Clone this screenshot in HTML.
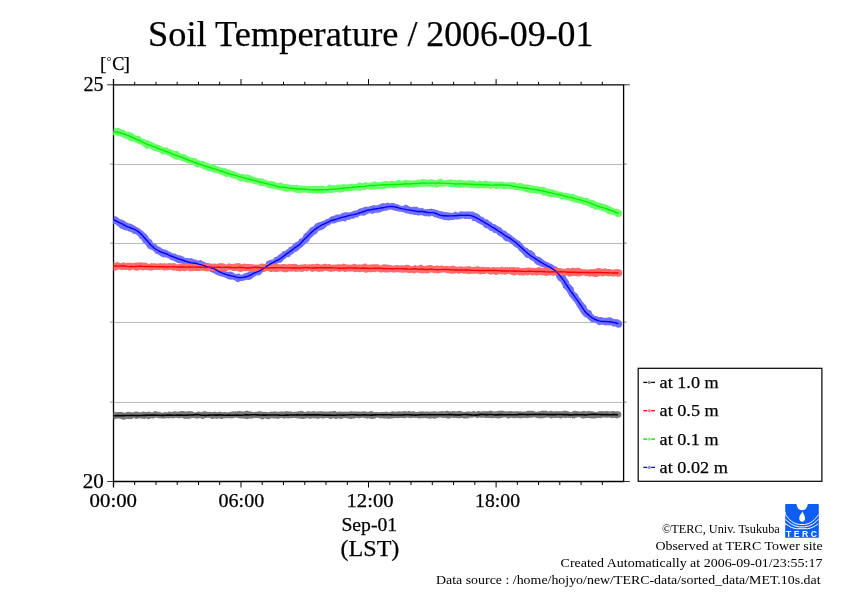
<!DOCTYPE html>
<html><head><meta charset="utf-8"><style>
html,body{margin:0;padding:0;background:#fff;}
body{width:842px;height:595px;overflow:hidden;}
svg{display:block;will-change:transform;font-family:"Liberation Serif",serif;}
</style></head><body>
<svg width="842" height="595" viewBox="0 0 842 595">
<rect width="842" height="595" fill="#fff"/>
<line x1="113.5" y1="164.5" x2="623.6" y2="164.5" stroke="#bababa" stroke-width="1"/>
<line x1="110.2" y1="164.1" x2="113.5" y2="164.1" stroke="#8c8c8c" stroke-width="1"/>
<line x1="623.6" y1="164.1" x2="626.8" y2="164.1" stroke="#8c8c8c" stroke-width="1"/>
<line x1="113.5" y1="243.5" x2="623.6" y2="243.5" stroke="#bababa" stroke-width="1"/>
<line x1="110.2" y1="243.1" x2="113.5" y2="243.1" stroke="#8c8c8c" stroke-width="1"/>
<line x1="623.6" y1="243.1" x2="626.8" y2="243.1" stroke="#8c8c8c" stroke-width="1"/>
<line x1="113.5" y1="322.5" x2="623.6" y2="322.5" stroke="#bababa" stroke-width="1"/>
<line x1="110.2" y1="322.1" x2="113.5" y2="322.1" stroke="#8c8c8c" stroke-width="1"/>
<line x1="623.6" y1="322.1" x2="626.8" y2="322.1" stroke="#8c8c8c" stroke-width="1"/>
<line x1="113.5" y1="402.5" x2="623.6" y2="402.5" stroke="#bababa" stroke-width="1"/>
<line x1="110.2" y1="402.1" x2="113.5" y2="402.1" stroke="#8c8c8c" stroke-width="1"/>
<line x1="623.6" y1="402.1" x2="626.8" y2="402.1" stroke="#8c8c8c" stroke-width="1"/>
<line x1="113.5" y1="79.1" x2="113.5" y2="487.5" stroke="#000" stroke-width="1.3"/>
<line x1="112.9" y1="84.8" x2="624.2" y2="84.8" stroke="#000" stroke-width="1.3"/>
<line x1="112.9" y1="481.5" x2="624.2" y2="481.5" stroke="#000" stroke-width="1.3"/>
<line x1="107.2" y1="84.8" x2="113.5" y2="84.8" stroke="#333" stroke-width="1"/>
<line x1="623.6" y1="84.8" x2="629.8" y2="84.8" stroke="#333" stroke-width="1"/>
<line x1="107.2" y1="481.5" x2="113.5" y2="481.5" stroke="#333" stroke-width="1"/>
<line x1="623.6" y1="481.5" x2="629.8" y2="481.5" stroke="#333" stroke-width="1"/>
<line x1="623.6" y1="84.8" x2="623.6" y2="481.5" stroke="#000" stroke-width="1.3"/>
<line x1="134.7" y1="81.8" x2="134.7" y2="84.8" stroke="#000" stroke-width="1"/>
<line x1="134.7" y1="481.5" x2="134.7" y2="485" stroke="#000" stroke-width="1"/>
<line x1="156.0" y1="81.8" x2="156.0" y2="84.8" stroke="#000" stroke-width="1"/>
<line x1="156.0" y1="481.5" x2="156.0" y2="485" stroke="#000" stroke-width="1"/>
<line x1="177.2" y1="81.8" x2="177.2" y2="84.8" stroke="#000" stroke-width="1"/>
<line x1="177.2" y1="481.5" x2="177.2" y2="485" stroke="#000" stroke-width="1"/>
<line x1="198.5" y1="81.8" x2="198.5" y2="84.8" stroke="#000" stroke-width="1"/>
<line x1="198.5" y1="481.5" x2="198.5" y2="485" stroke="#000" stroke-width="1"/>
<line x1="219.7" y1="81.8" x2="219.7" y2="84.8" stroke="#000" stroke-width="1"/>
<line x1="219.7" y1="481.5" x2="219.7" y2="485" stroke="#000" stroke-width="1"/>
<line x1="241.0" y1="79.1" x2="241.0" y2="84.8" stroke="#000" stroke-width="1"/>
<line x1="241.0" y1="481.5" x2="241.0" y2="487.5" stroke="#000" stroke-width="1"/>
<line x1="262.2" y1="81.8" x2="262.2" y2="84.8" stroke="#000" stroke-width="1"/>
<line x1="262.2" y1="481.5" x2="262.2" y2="485" stroke="#000" stroke-width="1"/>
<line x1="283.5" y1="81.8" x2="283.5" y2="84.8" stroke="#000" stroke-width="1"/>
<line x1="283.5" y1="481.5" x2="283.5" y2="485" stroke="#000" stroke-width="1"/>
<line x1="304.8" y1="81.8" x2="304.8" y2="84.8" stroke="#000" stroke-width="1"/>
<line x1="304.8" y1="481.5" x2="304.8" y2="485" stroke="#000" stroke-width="1"/>
<line x1="326.0" y1="81.8" x2="326.0" y2="84.8" stroke="#000" stroke-width="1"/>
<line x1="326.0" y1="481.5" x2="326.0" y2="485" stroke="#000" stroke-width="1"/>
<line x1="347.3" y1="81.8" x2="347.3" y2="84.8" stroke="#000" stroke-width="1"/>
<line x1="347.3" y1="481.5" x2="347.3" y2="485" stroke="#000" stroke-width="1"/>
<line x1="368.5" y1="79.1" x2="368.5" y2="84.8" stroke="#000" stroke-width="1"/>
<line x1="368.5" y1="481.5" x2="368.5" y2="487.5" stroke="#000" stroke-width="1"/>
<line x1="389.8" y1="81.8" x2="389.8" y2="84.8" stroke="#000" stroke-width="1"/>
<line x1="389.8" y1="481.5" x2="389.8" y2="485" stroke="#000" stroke-width="1"/>
<line x1="411.0" y1="81.8" x2="411.0" y2="84.8" stroke="#000" stroke-width="1"/>
<line x1="411.0" y1="481.5" x2="411.0" y2="485" stroke="#000" stroke-width="1"/>
<line x1="432.3" y1="81.8" x2="432.3" y2="84.8" stroke="#000" stroke-width="1"/>
<line x1="432.3" y1="481.5" x2="432.3" y2="485" stroke="#000" stroke-width="1"/>
<line x1="453.6" y1="81.8" x2="453.6" y2="84.8" stroke="#000" stroke-width="1"/>
<line x1="453.6" y1="481.5" x2="453.6" y2="485" stroke="#000" stroke-width="1"/>
<line x1="474.8" y1="81.8" x2="474.8" y2="84.8" stroke="#000" stroke-width="1"/>
<line x1="474.8" y1="481.5" x2="474.8" y2="485" stroke="#000" stroke-width="1"/>
<line x1="496.1" y1="79.1" x2="496.1" y2="84.8" stroke="#000" stroke-width="1"/>
<line x1="496.1" y1="481.5" x2="496.1" y2="487.5" stroke="#000" stroke-width="1"/>
<line x1="517.3" y1="81.8" x2="517.3" y2="84.8" stroke="#000" stroke-width="1"/>
<line x1="517.3" y1="481.5" x2="517.3" y2="485" stroke="#000" stroke-width="1"/>
<line x1="538.6" y1="81.8" x2="538.6" y2="84.8" stroke="#000" stroke-width="1"/>
<line x1="538.6" y1="481.5" x2="538.6" y2="485" stroke="#000" stroke-width="1"/>
<line x1="559.8" y1="81.8" x2="559.8" y2="84.8" stroke="#000" stroke-width="1"/>
<line x1="559.8" y1="481.5" x2="559.8" y2="485" stroke="#000" stroke-width="1"/>
<line x1="581.1" y1="81.8" x2="581.1" y2="84.8" stroke="#000" stroke-width="1"/>
<line x1="581.1" y1="481.5" x2="581.1" y2="485" stroke="#000" stroke-width="1"/>
<line x1="602.3" y1="81.8" x2="602.3" y2="84.8" stroke="#000" stroke-width="1"/>
<line x1="602.3" y1="481.5" x2="602.3" y2="485" stroke="#000" stroke-width="1"/>
<defs><clipPath id="pc"><rect x="113.2" y="70" width="520" height="420"/></clipPath></defs>
<g clip-path="url(#pc)">
<path d="M113.46 419.60 L114.46 419.46 L115.45 418.97 L116.45 418.74 L117.45 418.44 L118.46 418.85 L119.45 418.60 L120.46 419.02 L121.46 419.04 L122.47 419.75 L123.47 419.68 L124.47 419.73 L125.46 419.17 L126.45 418.87 L127.45 419.01 L128.45 419.10 L129.46 419.35 L130.45 419.06 L131.45 419.19 L132.44 418.66 L133.43 418.18 L134.43 418.11 L135.44 419.01 L136.44 418.96 L137.43 418.66 L138.43 418.17 L139.43 418.48 L140.43 418.57 L141.42 418.41 L142.43 418.74 L143.43 418.81 L144.43 418.93 L145.42 418.42 L146.42 418.55 L147.42 418.90 L148.42 419.30 L149.42 419.07 L150.42 418.38 L151.42 418.33 L152.42 418.50 L153.41 418.73 L154.41 418.08 L155.41 417.80 L156.41 417.59 L157.41 417.91 L158.41 418.13 L159.41 418.14 L160.41 418.28 L161.41 418.52 L162.41 418.57 L163.41 418.60 L164.41 418.45 L165.41 418.47 L166.41 418.14 L167.41 418.05 L168.41 418.39 L169.41 418.33 L170.41 418.19 L171.40 417.88 L172.41 418.57 L173.41 418.27 L174.41 418.32 L175.40 417.69 L176.40 417.82 L177.40 417.88 L178.40 418.13 L179.40 418.32 L180.40 418.14 L181.40 417.86 L182.40 418.11 L183.40 418.61 L184.40 418.96 L185.40 418.67 L186.40 418.63 L187.40 418.75 L188.40 418.89 L189.40 418.79 L190.40 418.47 L191.40 418.22 L192.40 418.03 L193.40 417.98 L194.40 418.17 L195.40 418.20 L196.40 418.59 L197.40 418.70 L198.40 418.33 L199.40 418.16 L200.40 418.12 L201.40 418.67 L202.40 418.92 L203.40 418.78 L204.40 418.50 L205.40 418.01 L206.40 417.96 L207.40 417.82 L208.40 417.79 L209.40 417.82 L210.40 418.24 L211.40 418.89 L212.40 419.03 L213.40 418.77 L214.40 418.49 L215.40 418.60 L216.40 418.75 L217.40 418.76 L218.40 418.53 L219.40 418.35 L220.40 418.76 L221.40 419.04 L222.40 418.90 L223.40 418.58 L224.40 418.17 L225.40 418.42 L226.40 418.12 L227.40 418.36 L228.40 418.18 L229.40 418.24 L230.40 418.29 L231.40 418.55 L232.40 418.20 L233.40 418.37 L234.40 417.75 L235.40 417.82 L236.40 417.43 L237.40 418.02 L238.40 418.34 L239.40 418.33 L240.40 418.45 L241.40 418.48 L242.40 418.59 L243.40 418.55 L244.40 418.38 L245.40 418.88 L246.40 418.98 L247.40 419.14 L248.40 418.66 L249.40 418.41 L250.40 418.59 L251.40 418.67 L252.40 418.45 L253.40 418.05 L254.40 418.20 L255.40 418.07 L256.40 418.11 L257.40 418.13 L258.40 418.12 L259.40 418.43 L260.40 418.41 L261.40 419.28 L262.40 419.46 L263.40 419.26 L264.40 418.49 L265.40 418.50 L266.40 418.74 L267.40 419.33 L268.40 419.37 L269.40 419.09 L270.40 418.66 L271.40 418.06 L272.40 418.15 L273.40 418.41 L274.40 418.51 L275.40 418.47 L276.40 418.50 L277.40 418.99 L278.40 418.78 L279.40 418.50 L280.40 417.93 L281.40 417.88 L282.40 418.12 L283.40 418.55 L284.40 418.68 L285.40 418.44 L286.40 418.08 L287.40 418.58 L288.40 418.50 L289.40 418.56 L290.40 417.96 L291.40 418.25 L292.40 418.21 L293.40 417.98 L294.40 417.89 L295.40 418.03 L296.40 418.41 L297.40 418.36 L298.40 418.39 L299.40 418.51 L300.40 418.75 L301.40 418.86 L302.40 419.00 L303.40 418.90 L304.40 418.86 L305.40 418.60 L306.40 418.46 L307.40 418.05 L308.40 418.33 L309.40 418.78 L310.40 419.05 L311.40 418.58 L312.40 418.19 L313.40 418.15 L314.40 418.57 L315.40 418.13 L316.40 418.55 L317.40 418.66 L318.40 419.12 L319.40 418.29 L320.40 417.90 L321.40 418.15 L322.40 418.65 L323.40 418.53 L324.40 418.21 L325.40 418.18 L326.40 418.11 L327.40 418.06 L328.40 418.27 L329.40 418.76 L330.40 419.00 L331.40 418.86 L332.40 418.50 L333.40 418.26 L334.40 418.62 L335.40 418.91 L336.40 419.09 L337.40 418.41 L338.40 418.53 L339.40 418.41 L340.40 419.00 L341.40 418.65 L342.40 418.58 L343.40 418.16 L344.40 418.11 L345.40 418.05 L346.40 418.14 L347.40 418.28 L348.40 418.43 L349.40 418.83 L350.40 418.97 L351.40 419.02 L352.40 418.42 L353.40 418.71 L354.40 418.41 L355.40 418.09 L356.40 417.70 L357.40 417.96 L358.40 418.23 L359.40 418.50 L360.40 418.04 L361.40 417.90 L362.40 417.57 L363.40 417.85 L364.40 418.14 L365.40 418.29 L366.40 418.34 L367.40 418.72 L368.40 418.24 L369.40 418.40 L370.40 418.56 L371.40 418.94 L372.40 419.00 L373.40 418.83 L374.40 418.82 L375.40 418.58 L376.40 417.71 L377.40 417.51 L378.40 417.82 L379.40 418.40 L380.40 418.36 L381.40 418.20 L382.40 418.24 L383.40 418.55 L384.40 418.44 L385.40 418.54 L386.40 418.29 L387.40 418.75 L388.40 418.76 L389.40 418.83 L390.40 418.55 L391.40 418.42 L392.40 418.55 L393.40 418.28 L394.40 418.19 L395.40 418.03 L396.40 418.05 L397.40 418.21 L398.40 418.13 L399.40 418.07 L400.40 418.00 L401.40 417.90 L402.40 418.00 L403.40 417.98 L404.40 418.27 L405.40 418.26 L406.40 417.59 L407.40 417.56 L408.40 417.66 L409.40 418.10 L410.40 418.25 L411.40 418.12 L412.40 418.07 L413.40 417.78 L414.40 417.82 L415.40 417.89 L416.40 417.87 L417.40 418.02 L418.40 418.50 L419.40 418.48 L420.40 418.16 L421.40 418.17 L422.40 418.22 L423.40 418.31 L424.40 417.89 L425.40 418.01 L426.40 418.14 L427.40 418.32 L428.40 418.58 L429.40 418.70 L430.40 418.81 L431.40 418.19 L432.40 418.14 L433.40 418.46 L434.40 418.65 L435.40 418.83 L436.40 418.11 L437.40 418.14 L438.40 417.68 L439.40 417.46 L440.40 417.51 L441.40 417.44 L442.40 418.09 L443.40 417.90 L444.40 417.72 L445.40 417.91 L446.40 418.13 L447.40 418.59 L448.40 418.67 L449.40 418.60 L450.40 418.21 L451.40 417.62 L452.40 417.71 L453.40 417.96 L454.40 418.13 L455.40 417.87 L456.40 418.20 L457.40 418.06 L458.40 418.28 L459.40 418.41 L460.40 418.04 L461.40 417.96 L462.40 417.91 L463.40 418.41 L464.40 418.67 L465.40 418.28 L466.40 418.40 L467.40 418.42 L468.40 418.32 L469.40 417.85 L470.40 417.52 L471.40 417.66 L472.40 417.75 L473.40 417.32 L474.40 417.13 L475.40 417.28 L476.40 418.04 L477.40 418.23 L478.40 417.85 L479.40 417.56 L480.40 417.68 L481.40 417.71 L482.40 417.77 L483.40 417.46 L484.40 417.82 L485.40 417.91 L486.40 417.92 L487.40 418.01 L488.40 417.98 L489.40 418.01 L490.40 417.98 L491.40 418.24 L492.40 418.24 L493.40 417.96 L494.40 417.91 L495.40 417.90 L496.40 418.19 L497.40 418.31 L498.40 418.45 L499.40 418.39 L500.40 418.01 L501.40 418.11 L502.40 417.77 L503.40 417.50 L504.40 417.38 L505.40 417.13 L506.40 417.75 L507.40 418.13 L508.40 418.68 L509.40 418.27 L510.40 417.81 L511.40 417.82 L512.40 417.88 L513.40 418.26 L514.40 418.07 L515.40 418.30 L516.40 417.98 L517.40 417.82 L518.40 417.90 L519.40 418.16 L520.40 418.49 L521.40 418.22 L522.40 418.03 L523.40 417.98 L524.40 417.84 L525.40 417.93 L526.40 418.06 L527.40 418.26 L528.40 418.08 L529.40 417.85 L530.40 417.71 L531.40 417.77 L532.40 417.54 L533.40 417.33 L534.40 417.35 L535.40 417.52 L536.40 418.05 L537.40 418.00 L538.40 418.16 L539.40 418.19 L540.40 418.46 L541.40 418.47 L542.40 418.18 L543.40 418.23 L544.40 418.01 L545.40 417.80 L546.40 417.46 L547.40 417.38 L548.40 417.46 L549.40 417.66 L550.40 418.23 L551.40 418.39 L552.40 418.28 L553.40 417.83 L554.40 418.07 L555.40 418.07 L556.40 418.06 L557.40 417.81 L558.40 417.83 L559.40 418.17 L560.40 418.52 L561.40 418.59 L562.40 418.08 L563.40 417.68 L564.40 417.82 L565.40 417.93 L566.40 418.13 L567.40 417.44 L568.40 418.06 L569.40 417.72 L570.40 418.33 L571.40 417.86 L572.40 418.53 L573.40 418.36 L574.40 418.64 L575.40 417.79 L576.40 417.80 L577.40 417.35 L578.40 417.24 L579.40 417.19 L580.40 417.40 L581.40 418.20 L582.40 418.41 L583.40 418.42 L584.40 418.22 L585.40 418.21 L586.40 418.04 L587.40 418.03 L588.40 417.89 L589.40 418.29 L590.40 418.35 L591.40 418.52 L592.40 418.49 L593.40 418.50 L594.40 418.45 L595.40 418.59 L596.40 418.32 L597.40 418.07 L598.40 417.97 L599.40 418.08 L600.40 418.34 L601.40 418.06 L602.40 417.79 L603.40 417.53 L604.40 417.46 L605.40 417.63 L606.40 417.82 L607.40 417.70 L608.40 417.56 L609.40 417.39 L610.40 417.64 L611.40 418.08 L612.40 418.14 L613.40 417.85 L614.40 417.98 L615.40 418.00 L616.40 418.53 L617.40 418.17 L618.00 418.27 L618.00 411.81 L617.39 411.62 L616.39 411.65 L615.39 411.40 L614.39 411.07 L613.39 410.98 L612.39 411.11 L611.39 411.29 L610.39 411.37 L609.39 411.52 L608.39 411.25 L607.39 411.10 L606.39 410.73 L605.39 411.24 L604.39 411.36 L603.39 411.37 L602.39 411.11 L601.39 411.21 L600.39 411.03 L599.39 411.30 L598.39 411.28 L597.39 412.01 L596.39 412.00 L595.39 411.99 L594.39 411.66 L593.39 411.53 L592.39 411.29 L591.39 411.23 L590.39 411.13 L589.39 410.94 L588.39 410.83 L587.39 411.34 L586.39 411.56 L585.39 411.22 L584.39 410.98 L583.39 410.66 L582.39 411.17 L581.39 411.29 L580.39 411.68 L579.39 411.39 L578.39 411.17 L577.39 411.22 L576.39 410.99 L575.39 410.69 L574.39 410.70 L573.39 411.07 L572.39 411.49 L571.39 411.96 L570.39 411.89 L569.39 411.79 L568.39 411.29 L567.39 411.07 L566.39 410.95 L565.39 410.45 L564.39 410.81 L563.39 410.75 L562.39 411.26 L561.39 411.20 L560.39 411.28 L559.39 411.25 L558.39 411.19 L557.39 411.27 L556.39 411.06 L555.39 411.36 L554.39 411.36 L553.39 411.54 L552.39 411.10 L551.39 410.81 L550.39 410.86 L549.39 411.29 L548.39 411.53 L547.39 411.30 L546.39 410.82 L545.39 410.54 L544.39 410.74 L543.39 410.42 L542.39 410.69 L541.39 410.48 L540.39 411.31 L539.39 411.25 L538.39 411.49 L537.39 411.50 L536.39 412.02 L535.39 411.84 L534.39 411.30 L533.39 410.73 L532.39 410.74 L531.39 410.81 L530.39 410.83 L529.39 410.75 L528.39 410.75 L527.39 410.79 L526.39 411.23 L525.39 411.40 L524.39 411.52 L523.39 411.50 L522.39 411.67 L521.39 411.46 L520.39 411.30 L519.39 411.16 L518.39 411.39 L517.39 411.06 L516.39 411.20 L515.39 411.27 L514.39 411.55 L513.39 411.39 L512.39 411.21 L511.39 411.06 L510.39 411.12 L509.39 411.16 L508.39 411.36 L507.39 411.22 L506.39 411.56 L505.39 411.21 L504.39 411.21 L503.39 410.79 L502.39 410.74 L501.39 410.51 L500.39 410.67 L499.39 410.70 L498.39 410.87 L497.39 411.18 L496.39 411.13 L495.39 411.58 L494.39 411.14 L493.39 411.47 L492.39 411.08 L491.39 410.65 L490.39 410.55 L489.39 410.79 L488.39 411.35 L487.39 411.28 L486.39 411.11 L485.39 411.25 L484.39 411.28 L483.39 411.08 L482.39 411.19 L481.39 411.53 L480.39 411.49 L479.39 410.93 L478.39 410.73 L477.39 411.36 L476.39 411.74 L475.39 411.77 L474.39 411.05 L473.39 411.03 L472.39 411.40 L471.39 411.68 L470.39 411.66 L469.39 411.33 L468.39 411.56 L467.39 411.51 L466.39 411.58 L465.39 411.68 L464.39 412.03 L463.39 412.01 L462.39 411.39 L461.39 411.16 L460.39 410.78 L459.39 410.92 L458.39 410.80 L457.39 411.37 L456.39 411.56 L455.39 411.48 L454.39 410.85 L453.39 411.19 L452.39 411.01 L451.39 411.50 L450.39 411.18 L449.39 411.42 L448.39 410.98 L447.39 410.78 L446.39 410.84 L445.39 411.31 L444.39 411.62 L443.39 411.27 L442.39 410.99 L441.39 411.06 L440.39 411.39 L439.39 411.41 L438.39 411.56 L437.39 411.73 L436.39 411.82 L435.39 411.20 L434.39 411.25 L433.39 411.22 L432.39 411.43 L431.39 411.52 L430.39 411.69 L429.39 411.82 L428.39 411.54 L427.39 411.43 L426.39 411.54 L425.39 411.49 L424.39 411.70 L423.39 411.33 L422.39 411.43 L421.39 411.28 L420.39 411.55 L419.39 411.59 L418.39 411.71 L417.39 412.03 L416.39 412.03 L415.39 411.92 L414.39 411.33 L413.39 411.27 L412.39 411.26 L411.39 411.63 L410.39 411.23 L409.39 411.08 L408.39 411.01 L407.39 411.55 L406.39 411.56 L405.39 411.37 L404.39 411.04 L403.39 411.18 L402.39 411.46 L401.39 411.52 L400.39 411.45 L399.39 411.37 L398.39 411.21 L397.39 411.39 L396.39 411.60 L395.39 411.75 L394.39 411.63 L393.39 411.22 L392.39 411.31 L391.39 411.52 L390.39 412.07 L389.39 412.33 L388.39 412.13 L387.39 411.65 L386.39 411.72 L385.39 411.79 L384.39 411.88 L383.39 411.93 L382.39 412.03 L381.39 412.08 L380.39 412.11 L379.39 412.21 L378.39 412.36 L377.39 412.02 L376.39 412.06 L375.39 411.94 L374.39 412.17 L373.39 411.67 L372.39 411.13 L371.39 410.90 L370.39 410.94 L369.39 411.67 L368.39 411.65 L367.39 412.07 L366.39 411.55 L365.39 411.47 L364.39 411.13 L363.39 411.28 L362.39 411.54 L361.39 411.50 L360.39 411.85 L359.39 411.49 L358.39 411.62 L357.39 411.52 L356.39 411.56 L355.39 411.59 L354.39 411.57 L353.39 411.52 L352.39 411.43 L351.39 411.02 L350.39 411.46 L349.39 411.41 L348.39 411.82 L347.39 411.67 L346.39 411.84 L345.39 411.55 L344.39 411.64 L343.39 411.65 L342.39 411.85 L341.39 411.70 L340.39 411.42 L339.39 411.44 L338.39 411.75 L337.39 412.12 L336.39 411.82 L335.39 410.98 L334.39 410.74 L333.39 410.94 L332.39 411.39 L331.39 411.32 L330.39 411.34 L329.39 411.45 L328.39 411.49 L327.39 411.52 L326.39 411.76 L325.39 411.42 L324.39 411.64 L323.39 411.34 L322.39 411.58 L321.39 411.19 L320.39 411.35 L319.39 411.30 L318.39 411.51 L317.39 411.60 L316.39 411.70 L315.39 411.50 L314.39 411.16 L313.39 411.03 L312.39 411.51 L311.39 411.61 L310.39 411.81 L309.39 411.19 L308.39 411.27 L307.39 411.20 L306.39 411.82 L305.39 411.99 L304.39 411.99 L303.39 411.43 L302.39 410.78 L301.39 410.91 L300.39 410.86 L299.39 411.44 L298.39 411.11 L297.39 411.79 L296.39 411.42 L295.39 411.63 L294.39 411.66 L293.39 412.12 L292.39 412.10 L291.39 411.61 L290.39 411.25 L289.39 411.64 L288.39 411.37 L287.39 411.36 L286.39 411.11 L285.39 411.36 L284.39 411.72 L283.39 411.43 L282.39 411.59 L281.39 411.46 L280.39 411.54 L279.39 411.70 L278.39 411.67 L277.39 411.88 L276.39 411.62 L275.39 411.13 L274.39 411.43 L273.39 411.54 L272.39 411.74 L271.39 411.46 L270.39 411.67 L269.39 412.10 L268.39 412.47 L267.39 412.09 L266.39 411.88 L265.39 411.76 L264.39 411.99 L263.39 411.93 L262.39 411.55 L261.39 411.50 L260.39 411.22 L259.39 411.27 L258.39 411.31 L257.39 411.65 L256.39 411.79 L255.39 411.87 L254.39 412.07 L253.39 411.96 L252.39 412.00 L251.39 411.54 L250.39 411.49 L249.39 411.18 L248.39 410.98 L247.39 410.74 L246.39 410.41 L245.39 411.04 L244.39 411.44 L243.39 411.60 L242.39 411.58 L241.39 411.18 L240.39 411.28 L239.39 410.83 L238.39 411.29 L237.39 411.11 L236.39 411.66 L235.39 411.34 L234.39 411.54 L233.39 411.30 L232.39 411.52 L231.39 411.67 L230.39 411.74 L229.39 412.04 L228.39 412.25 L227.39 412.52 L226.39 412.18 L225.39 412.02 L224.39 411.90 L223.39 412.25 L222.39 412.37 L221.39 412.06 L220.39 411.73 L219.39 411.46 L218.39 411.91 L217.39 412.16 L216.39 412.08 L215.39 411.69 L214.39 411.56 L213.39 412.10 L212.39 412.07 L211.39 412.14 L210.39 411.66 L209.39 411.86 L208.39 412.01 L207.39 412.07 L206.39 411.55 L205.39 411.20 L204.39 411.09 L203.39 411.50 L202.39 411.74 L201.39 412.29 L200.39 411.72 L199.39 411.63 L198.39 411.20 L197.39 411.91 L196.39 412.11 L195.39 412.46 L194.39 412.29 L193.39 412.03 L192.39 411.35 L191.39 411.21 L190.39 411.02 L189.39 411.30 L188.39 411.10 L187.39 411.36 L186.39 411.66 L185.39 411.54 L184.39 411.21 L183.39 411.05 L182.39 411.05 L181.39 411.11 L180.39 411.03 L179.39 411.46 L178.39 411.76 L177.39 411.79 L176.39 411.54 L175.39 411.29 L174.39 411.35 L173.39 411.52 L172.39 412.00 L171.39 412.04 L170.39 411.73 L169.39 411.42 L168.39 411.46 L167.39 412.17 L166.39 412.15 L165.39 412.15 L164.38 412.06 L163.39 412.52 L162.39 412.79 L161.39 412.61 L160.39 412.18 L159.38 411.78 L158.38 411.68 L157.38 411.64 L156.38 411.35 L155.38 411.09 L154.38 411.23 L153.38 412.01 L152.38 412.37 L151.38 412.54 L150.37 411.83 L149.37 411.86 L148.37 411.61 L147.38 411.95 L146.37 411.96 L145.37 411.92 L144.36 411.63 L143.36 411.58 L142.36 411.65 L141.37 412.21 L140.37 412.19 L139.36 412.25 L138.36 411.91 L137.36 411.80 L136.35 411.40 L135.35 411.57 L134.35 411.96 L133.36 412.26 L132.36 412.46 L131.35 411.94 L130.35 412.18 L129.34 411.72 L128.35 412.08 L127.34 411.85 L126.35 412.36 L125.35 412.57 L124.35 412.74 L123.34 412.39 L122.34 412.12 L121.33 411.90 L120.33 411.82 L119.33 411.94 L118.34 412.05 L117.34 412.11 L116.34 412.30 L115.34 411.67 L114.34 411.93 L113.34 411.39 Z" fill="#7a7a7a"/>
<circle cx="618.00" cy="414.60" r="3.40" fill="#7a7a7a"/>
<path d="M112.40 222.86 L112.91 223.61 L113.48 223.91 L114.38 224.10 L115.41 224.19 L116.20 224.80 L116.84 225.69 L117.79 226.05 L118.53 226.79 L119.41 227.26 L119.94 228.29 L120.89 228.61 L121.85 229.07 L122.93 229.37 L123.93 229.96 L125.09 230.24 L126.20 230.55 L127.34 230.60 L128.15 231.35 L129.17 231.39 L129.97 231.93 L130.95 231.84 L131.68 232.38 L132.42 232.98 L133.04 233.76 L133.92 233.99 L134.99 233.90 L135.79 234.27 L136.51 234.73 L137.06 235.29 L137.69 235.82 L138.39 236.30 L138.74 237.16 L139.34 237.92 L139.83 238.85 L140.80 239.32 L141.67 239.83 L142.10 240.77 L142.57 241.65 L142.99 242.59 L143.87 243.10 L144.50 243.79 L145.27 244.36 L145.86 245.11 L146.49 245.97 L147.13 246.92 L147.77 247.96 L148.71 248.72 L149.82 249.17 L150.93 249.57 L151.89 250.10 L152.88 250.55 L153.64 251.29 L154.49 251.93 L154.93 253.24 L155.94 253.72 L156.99 254.18 L158.16 254.43 L159.15 255.05 L160.01 255.94 L161.04 256.29 L161.89 257.04 L162.95 257.05 L163.86 257.40 L164.92 257.25 L165.80 257.64 L166.84 257.61 L167.64 258.21 L168.65 258.36 L169.41 259.17 L170.36 259.53 L171.13 260.34 L172.23 260.33 L173.13 260.78 L174.16 260.93 L174.95 261.72 L176.01 261.85 L176.78 262.76 L177.85 262.92 L178.84 263.30 L179.93 263.27 L180.97 263.40 L181.97 263.66 L182.99 263.85 L183.87 264.51 L184.86 264.81 L185.73 265.51 L186.64 266.14 L187.59 266.74 L188.73 266.60 L189.83 266.56 L190.81 266.95 L191.73 267.54 L192.70 267.74 L193.77 267.37 L194.73 267.43 L195.64 267.67 L196.52 268.02 L197.51 267.99 L198.56 267.79 L199.61 267.73 L200.63 267.75 L201.49 268.37 L202.36 269.00 L203.31 269.39 L204.34 269.55 L205.29 270.06 L206.33 270.21 L207.32 270.39 L208.37 270.06 L209.05 270.96 L209.82 271.20 L210.32 272.01 L211.11 272.06 L211.84 272.39 L212.71 272.68 L213.61 273.07 L214.42 273.84 L215.45 274.28 L216.37 274.85 L217.32 275.34 L218.36 275.59 L219.31 276.06 L220.41 276.20 L221.43 276.49 L222.53 276.66 L223.56 277.00 L224.53 277.46 L225.59 277.63 L226.51 278.29 L227.44 278.89 L228.40 279.24 L229.36 279.60 L230.39 279.63 L231.35 279.85 L232.44 279.60 L233.39 279.96 L234.35 280.35 L235.33 280.87 L236.31 281.64 L237.45 282.07 L238.69 282.15 L239.96 281.36 L241.19 281.09 L242.42 280.89 L243.65 280.83 L244.72 280.18 L245.89 280.08 L246.94 279.64 L248.30 280.25 L249.29 279.79 L250.46 279.81 L251.36 279.00 L252.51 278.32 L253.51 277.51 L254.16 276.87 L254.84 276.59 L255.58 276.18 L256.31 275.49 L257.36 275.47 L258.33 275.20 L259.43 275.17 L260.39 274.74 L261.22 273.99 L261.97 273.05 L262.83 272.33 L263.81 271.82 L265.03 271.71 L265.84 270.98 L266.79 270.51 L267.53 269.76 L268.41 269.27 L269.34 268.89 L270.31 268.59 L271.30 268.41 L272.04 267.91 L272.81 267.46 L273.44 266.73 L274.25 266.28 L275.04 265.74 L275.77 265.00 L276.52 264.23 L277.27 263.43 L278.31 263.14 L279.37 262.84 L280.58 262.69 L281.64 262.36 L282.46 261.69 L283.02 260.62 L283.64 259.70 L284.52 259.18 L285.38 258.63 L286.12 257.93 L286.78 257.15 L288.09 257.26 L289.18 257.10 L290.04 256.60 L290.53 255.58 L291.22 254.82 L292.16 254.40 L293.07 253.94 L293.73 253.13 L294.39 252.31 L295.36 251.92 L296.34 251.51 L297.43 251.23 L298.08 250.35 L298.96 249.73 L299.67 248.92 L300.44 248.19 L301.37 247.65 L302.21 247.06 L302.98 246.42 L303.58 245.57 L304.44 245.01 L305.06 244.17 L305.91 243.58 L306.59 242.80 L307.72 242.48 L308.58 241.83 L309.04 240.75 L309.66 239.86 L310.06 238.83 L310.98 238.35 L311.49 237.59 L312.31 237.16 L312.74 236.29 L313.43 235.67 L314.10 234.97 L315.00 234.54 L315.83 234.04 L316.74 233.65 L317.27 232.81 L317.89 232.09 L318.17 230.91 L319.12 230.64 L320.05 230.41 L321.00 230.27 L321.81 229.93 L322.63 229.59 L323.44 229.21 L324.22 228.75 L324.96 228.14 L325.71 227.51 L326.41 226.68 L327.20 226.01 L328.09 225.59 L329.15 225.56 L329.88 224.80 L330.68 224.19 L331.38 223.32 L332.48 223.46 L333.52 223.48 L334.55 223.49 L335.42 223.04 L336.29 222.68 L337.15 222.27 L338.11 222.10 L339.05 221.87 L340.04 221.84 L340.96 221.52 L341.92 221.32 L342.86 221.02 L343.93 221.22 L344.98 221.40 L345.97 221.40 L346.70 220.34 L347.58 219.81 L348.56 219.65 L349.66 219.92 L350.56 219.24 L351.47 218.63 L352.60 218.83 L353.70 218.84 L354.64 218.31 L355.46 217.43 L356.50 217.38 L357.57 217.41 L358.46 216.91 L359.21 215.95 L360.16 215.69 L361.08 215.30 L362.23 215.68 L363.26 215.60 L364.35 215.75 L365.24 215.26 L366.10 214.71 L367.00 214.31 L367.89 213.89 L368.75 213.47 L369.62 213.10 L370.63 213.40 L371.64 213.82 L372.59 213.88 L373.50 213.51 L374.43 212.89 L375.46 212.75 L376.51 212.74 L377.55 212.85 L378.57 212.86 L379.52 212.54 L380.49 212.33 L381.40 211.79 L382.39 211.62 L383.31 210.89 L384.34 210.90 L385.30 210.62 L386.32 210.91 L387.17 210.29 L388.04 210.30 L388.84 209.86 L389.71 209.70 L390.54 209.45 L391.34 209.75 L392.21 210.02 L393.11 210.24 L394.04 210.37 L394.94 210.88 L395.92 210.70 L396.78 211.09 L397.69 211.33 L398.59 211.78 L399.65 211.60 L400.68 211.66 L401.67 211.89 L402.72 211.97 L403.76 212.18 L404.72 212.70 L405.66 213.25 L406.63 213.60 L407.70 213.41 L408.68 213.78 L409.65 214.17 L410.63 214.46 L411.67 214.34 L412.68 214.43 L413.66 214.73 L414.66 214.93 L415.68 215.02 L416.69 215.07 L417.67 215.43 L418.69 215.48 L419.73 215.35 L420.77 215.31 L421.80 215.30 L422.80 215.53 L423.79 215.92 L424.77 216.28 L425.77 216.37 L426.77 216.23 L427.75 216.26 L428.72 216.45 L429.72 216.38 L430.74 216.27 L431.77 215.81 L432.69 216.01 L433.48 216.65 L434.18 217.10 L434.72 217.58 L435.59 217.26 L436.41 217.69 L437.54 218.07 L438.80 218.43 L439.97 218.68 L441.06 218.91 L442.12 219.26 L443.14 219.70 L444.17 220.13 L445.24 220.07 L446.34 220.27 L447.48 220.20 L448.60 220.46 L449.72 220.16 L450.78 219.91 L451.85 220.03 L452.94 220.34 L453.98 219.80 L455.03 219.56 L456.04 219.35 L457.07 219.67 L458.03 219.50 L458.96 219.36 L459.88 219.30 L460.78 219.14 L461.71 218.54 L462.67 218.42 L463.64 218.58 L464.61 219.03 L465.58 219.12 L466.54 218.98 L467.50 218.84 L468.43 219.05 L469.34 219.15 L470.23 219.11 L471.07 218.73 L471.55 219.11 L471.72 219.94 L472.19 220.76 L473.33 220.89 L474.42 220.99 L475.44 221.10 L476.02 222.01 L476.85 222.54 L477.65 223.12 L478.68 223.33 L479.43 224.02 L480.43 224.28 L481.26 224.83 L482.38 224.89 L482.96 225.86 L483.61 226.72 L484.28 227.53 L485.14 228.04 L486.16 228.29 L487.23 228.44 L488.19 228.80 L488.84 229.68 L489.61 230.38 L490.39 231.03 L491.64 230.88 L492.38 231.58 L493.19 232.16 L493.84 233.00 L494.94 233.06 L495.91 233.33 L496.87 233.61 L497.34 234.63 L498.10 235.19 L498.80 235.87 L499.67 236.30 L500.66 236.62 L501.51 237.18 L502.29 237.85 L502.98 238.70 L503.61 239.67 L504.49 240.23 L505.11 241.15 L506.27 241.19 L507.20 241.56 L508.27 241.69 L509.15 242.14 L509.90 242.76 L510.75 243.17 L511.35 243.92 L512.17 244.35 L512.82 245.07 L513.40 245.82 L514.09 246.37 L514.73 247.04 L515.81 247.31 L516.59 247.90 L517.56 248.29 L517.97 249.30 L518.57 250.12 L519.27 250.87 L520.08 251.52 L520.86 252.18 L521.72 252.79 L522.38 253.68 L523.19 254.36 L523.68 255.37 L524.50 256.01 L525.02 257.05 L525.92 257.58 L526.96 257.93 L528.15 258.03 L529.03 258.56 L529.74 259.34 L530.50 260.05 L531.37 260.60 L532.44 260.84 L533.33 261.35 L534.00 262.23 L534.64 263.15 L535.43 263.85 L536.27 264.43 L537.11 265.03 L538.18 265.27 L539.11 265.71 L540.16 265.92 L540.80 266.82 L541.86 266.99 L542.72 267.54 L543.89 267.58 L544.78 268.12 L545.60 268.80 L546.32 269.65 L547.05 270.43 L547.97 270.79 L548.73 271.35 L549.54 271.71 L550.21 272.23 L550.85 272.68 L551.65 272.99 L552.22 273.71 L552.90 274.27 L553.84 274.53 L555.02 274.56 L555.74 275.14 L555.93 276.26 L556.34 277.14 L556.59 278.10 L557.30 278.66 L557.57 279.59 L558.31 280.18 L558.89 280.92 L559.83 281.44 L560.67 282.06 L561.28 282.86 L561.48 283.95 L562.26 284.62 L562.48 285.66 L562.75 286.66 L563.06 287.64 L563.85 288.30 L564.72 288.92 L565.25 289.77 L565.90 290.56 L566.83 291.17 L567.10 292.24 L567.69 293.08 L568.01 294.10 L568.82 294.77 L569.11 295.81 L569.64 296.66 L570.48 297.27 L571.12 298.01 L571.67 298.82 L572.29 299.57 L572.79 300.40 L573.78 300.91 L574.08 301.90 L574.97 302.51 L575.37 303.45 L575.83 304.36 L576.45 305.19 L576.79 306.22 L577.33 307.08 L577.88 307.94 L578.54 308.71 L579.07 309.59 L579.57 310.53 L580.18 311.39 L580.89 312.16 L581.37 313.15 L581.86 314.19 L582.82 314.80 L583.31 315.79 L584.18 316.49 L584.91 317.32 L586.23 317.54 L587.04 318.29 L587.87 319.06 L588.68 319.89 L589.61 320.59 L590.52 321.41 L591.38 322.29 L592.59 322.41 L593.81 322.54 L595.10 322.54 L596.12 323.16 L597.08 323.97 L598.03 324.77 L599.05 325.29 L600.27 324.91 L601.42 324.85 L602.56 324.55 L603.57 324.97 L604.62 325.13 L605.69 325.47 L606.80 325.13 L607.79 325.37 L608.71 325.20 L609.49 325.82 L610.43 325.27 L611.27 325.59 L612.16 325.70 L612.89 326.70 L613.92 326.48 L614.81 326.59 L615.84 326.17 L616.70 326.54 L617.57 326.58 L619.81 320.38 L619.05 319.94 L618.15 319.22 L616.93 319.19 L615.80 319.06 L614.69 319.16 L613.69 318.79 L612.63 318.39 L611.57 317.82 L610.46 317.33 L609.25 317.31 L608.13 317.60 L607.13 317.72 L606.21 317.74 L605.32 317.65 L604.36 317.84 L603.43 317.70 L602.55 317.44 L601.72 317.06 L600.83 317.02 L599.88 317.10 L598.93 317.21 L598.12 316.91 L597.50 316.24 L596.68 316.16 L595.81 316.00 L594.81 315.98 L594.14 315.38 L593.56 314.74 L592.85 314.26 L592.35 313.49 L591.86 312.73 L591.62 311.68 L591.34 310.71 L590.41 310.39 L589.51 310.01 L588.39 309.77 L587.72 309.12 L587.08 308.47 L586.70 307.57 L586.71 306.36 L586.10 305.64 L585.40 304.98 L584.67 304.31 L584.14 303.47 L583.55 302.69 L582.78 302.03 L582.02 301.39 L581.74 300.42 L581.10 299.66 L580.85 298.63 L579.83 298.11 L579.24 297.29 L578.62 296.47 L578.31 295.44 L577.94 294.44 L577.23 293.68 L576.53 292.93 L575.39 292.50 L574.87 291.64 L574.10 290.97 L574.08 289.77 L573.65 288.87 L573.62 287.72 L572.80 287.12 L572.29 286.29 L571.42 285.68 L570.93 284.81 L569.84 284.33 L569.56 283.31 L568.93 282.51 L568.97 281.25 L568.24 280.52 L567.84 279.57 L567.05 278.92 L566.44 278.13 L566.16 277.08 L565.81 276.06 L565.29 275.12 L564.52 274.35 L563.70 273.58 L562.78 272.90 L561.64 272.43 L560.88 271.69 L560.33 270.76 L559.70 269.83 L558.93 268.99 L557.95 268.42 L557.35 267.41 L556.43 266.79 L555.43 266.21 L554.22 265.89 L553.36 265.11 L552.47 264.46 L551.56 263.92 L550.58 263.59 L549.67 263.18 L548.85 262.67 L547.99 262.25 L547.09 261.92 L546.20 261.53 L545.21 261.27 L544.45 260.59 L543.64 260.01 L542.86 259.38 L542.17 258.63 L541.33 258.15 L540.52 257.61 L539.67 257.11 L538.78 256.71 L537.85 256.39 L536.81 256.22 L536.02 255.63 L535.41 254.77 L535.06 253.58 L534.40 252.83 L533.71 252.16 L532.87 251.67 L532.25 250.86 L531.48 250.28 L530.45 250.03 L529.26 250.01 L528.56 249.32 L527.89 248.60 L527.34 247.78 L526.26 247.63 L525.42 247.15 L524.54 246.65 L524.07 245.73 L523.26 245.16 L522.78 244.22 L521.75 243.85 L521.28 242.83 L520.56 242.10 L519.98 241.22 L519.08 240.63 L517.93 240.28 L517.11 239.59 L516.11 239.19 L515.46 238.26 L514.41 237.90 L513.82 236.89 L512.73 236.66 L512.09 235.78 L511.19 235.28 L510.48 234.50 L509.61 234.01 L508.73 233.57 L507.92 233.05 L507.09 232.59 L506.57 231.64 L505.80 231.05 L504.92 230.60 L503.68 230.61 L502.83 230.02 L502.23 229.08 L501.55 228.19 L500.73 227.49 L499.86 226.90 L498.82 226.63 L497.93 226.12 L496.97 225.75 L496.28 224.93 L495.35 224.54 L494.45 224.11 L493.29 224.11 L492.57 223.38 L491.89 222.58 L491.20 221.81 L490.06 221.76 L489.14 221.35 L488.57 220.36 L487.90 219.52 L486.86 219.31 L485.74 219.23 L484.79 218.84 L484.18 217.90 L483.39 217.26 L482.53 216.74 L481.36 216.74 L480.55 216.12 L479.84 215.31 L479.10 214.49 L478.24 213.85 L477.25 213.60 L476.38 213.22 L475.26 212.79 L473.87 212.05 L472.39 211.49 L471.08 211.58 L469.95 211.54 L468.87 211.46 L467.80 211.41 L466.76 211.28 L465.71 211.71 L464.68 211.48 L463.64 211.49 L462.61 211.39 L461.57 211.24 L460.50 211.25 L459.44 211.93 L458.42 212.55 L457.37 212.58 L456.26 211.75 L455.23 211.60 L454.30 212.04 L453.41 212.61 L452.49 213.00 L451.54 212.87 L450.58 212.71 L449.64 212.61 L448.74 212.43 L447.85 212.40 L447.01 211.92 L446.06 212.35 L445.17 211.81 L444.18 212.18 L443.35 211.48 L442.40 211.68 L441.63 211.09 L440.80 211.19 L440.13 211.07 L439.33 210.90 L438.30 210.57 L437.16 210.00 L435.88 209.76 L434.70 209.44 L433.62 209.00 L432.55 208.88 L431.55 208.56 L430.49 209.02 L429.52 208.70 L428.44 209.26 L427.46 208.80 L426.39 209.35 L425.41 209.13 L424.39 209.35 L423.49 208.46 L422.54 208.05 L421.59 207.84 L420.55 208.34 L419.58 208.19 L418.64 207.74 L417.73 207.12 L416.79 206.71 L415.78 206.85 L414.80 206.79 L413.80 206.82 L412.80 206.78 L411.76 207.00 L410.75 207.10 L409.83 206.60 L408.95 205.94 L407.99 205.77 L407.14 204.99 L406.17 204.87 L405.27 204.59 L404.14 205.48 L403.11 205.71 L402.05 205.94 L401.07 205.75 L400.07 205.60 L399.18 204.98 L398.23 204.41 L397.23 203.88 L396.14 203.93 L395.17 203.54 L394.14 203.19 L393.10 202.67 L391.92 203.11 L390.71 203.25 L389.51 203.16 L388.33 202.66 L387.12 202.51 L386.04 203.15 L384.98 203.28 L383.93 203.37 L382.85 203.10 L381.88 203.24 L380.99 203.73 L380.03 203.99 L379.15 204.79 L378.12 204.78 L377.22 205.44 L376.17 205.24 L375.22 205.61 L374.13 205.01 L373.21 205.28 L372.23 205.40 L371.28 206.00 L370.22 206.09 L369.22 206.64 L368.12 206.65 L367.05 206.82 L365.88 206.58 L364.90 206.92 L363.87 207.06 L363.00 207.70 L362.06 208.07 L361.10 208.35 L360.04 208.29 L359.11 208.65 L358.22 209.23 L357.36 209.88 L356.39 210.16 L355.50 210.64 L354.45 210.61 L353.53 210.97 L352.59 211.22 L351.73 211.66 L350.91 212.30 L349.89 212.20 L348.96 212.48 L347.87 212.13 L346.91 212.35 L345.86 212.29 L344.82 212.35 L343.85 212.73 L342.76 212.65 L341.87 213.30 L340.91 213.63 L340.08 214.47 L339.00 214.41 L337.93 214.42 L336.85 214.43 L335.86 214.76 L334.96 215.37 L334.00 215.83 L332.96 216.07 L331.90 216.21 L330.89 216.50 L330.03 217.15 L329.14 217.74 L328.39 218.63 L327.36 218.82 L326.38 219.16 L325.39 219.43 L324.69 220.35 L323.71 220.64 L322.76 221.00 L321.70 221.20 L320.83 221.83 L319.66 221.89 L318.68 222.37 L317.58 222.68 L316.57 223.17 L315.49 223.59 L314.76 224.50 L314.19 225.57 L313.38 226.26 L312.38 226.70 L311.57 227.36 L310.40 227.60 L309.79 228.50 L309.00 229.17 L308.42 230.09 L307.72 230.90 L306.83 231.54 L306.27 232.54 L305.27 233.09 L304.37 233.66 L303.72 234.37 L303.26 235.22 L303.05 236.31 L302.65 237.25 L301.84 237.82 L301.02 238.38 L299.90 238.61 L299.21 239.31 L298.64 240.15 L298.23 241.17 L297.21 241.52 L296.29 241.98 L295.16 242.13 L294.90 243.27 L293.98 243.62 L293.37 244.34 L292.43 244.68 L291.96 245.65 L291.22 246.30 L290.35 246.77 L289.33 247.04 L288.65 247.78 L288.11 248.74 L287.23 249.22 L286.34 249.69 L285.71 250.54 L284.72 250.89 L283.71 251.22 L282.55 251.35 L282.08 252.40 L281.44 253.20 L280.52 253.61 L279.81 254.28 L278.93 254.70 L278.21 255.30 L277.47 255.91 L276.82 256.64 L275.87 256.78 L274.92 256.92 L274.27 257.67 L273.67 258.62 L272.95 259.38 L271.87 259.50 L270.85 259.78 L269.83 260.12 L268.78 260.47 L267.71 260.83 L266.70 261.29 L266.14 262.37 L265.66 263.50 L264.86 264.14 L263.80 264.35 L262.77 264.56 L261.94 265.01 L261.17 265.50 L260.52 266.14 L259.73 266.54 L258.91 266.89 L258.03 267.16 L257.16 267.49 L256.41 268.16 L255.49 268.52 L254.73 269.27 L253.69 269.47 L252.62 269.66 L251.49 269.98 L250.37 270.62 L249.68 271.62 L248.93 271.82 L248.31 272.12 L247.47 272.36 L246.66 272.86 L245.72 272.96 L244.89 273.32 L244.07 273.50 L243.36 273.97 L242.56 274.13 L241.87 274.95 L241.07 274.73 L240.27 274.61 L239.54 273.42 L238.74 273.53 L237.83 273.84 L236.86 274.07 L235.88 274.12 L234.99 273.65 L234.05 273.33 L233.19 272.61 L232.30 272.01 L231.33 271.80 L230.39 271.51 L229.41 271.39 L228.32 271.77 L227.37 271.70 L226.48 271.40 L225.71 270.74 L224.77 270.66 L224.09 269.91 L223.20 269.59 L222.45 268.97 L221.47 268.85 L220.76 268.13 L219.82 267.92 L219.07 267.35 L218.19 267.11 L217.48 266.51 L216.38 266.34 L215.35 265.98 L214.53 265.01 L213.30 264.79 L212.29 264.00 L210.87 264.63 L209.96 263.80 L208.95 263.48 L208.09 262.78 L207.05 263.03 L206.07 262.97 L205.26 262.28 L204.39 261.77 L203.42 261.54 L202.47 261.21 L201.60 260.56 L200.76 259.79 L199.56 260.27 L198.43 260.44 L197.35 260.41 L196.42 259.75 L195.39 259.56 L194.40 259.29 L193.37 259.29 L192.53 258.44 L191.61 258.21 L190.72 257.90 L189.65 258.39 L188.68 258.37 L187.79 257.97 L186.79 257.93 L185.77 257.97 L184.82 257.76 L184.04 256.98 L183.19 256.45 L182.22 256.31 L181.38 255.77 L180.50 255.40 L179.59 255.19 L178.49 255.37 L177.59 255.01 L176.72 254.57 L175.94 253.86 L175.01 253.50 L173.91 253.58 L173.02 253.15 L171.97 253.14 L171.30 252.17 L170.24 252.08 L169.36 251.52 L168.35 251.23 L167.53 250.47 L166.57 250.03 L165.63 249.57 L164.58 249.55 L163.70 249.21 L162.75 249.08 L162.10 248.42 L161.32 248.13 L160.78 247.37 L159.91 247.16 L159.22 246.59 L158.21 246.49 L157.52 245.87 L156.75 245.32 L156.44 244.20 L155.62 243.80 L154.81 243.39 L153.66 243.35 L152.95 242.87 L152.69 241.95 L152.28 241.15 L151.87 240.27 L151.14 239.52 L150.08 239.01 L149.28 238.32 L148.56 237.59 L148.12 236.61 L147.74 235.57 L146.96 234.89 L146.38 234.03 L145.41 233.58 L144.74 232.86 L143.92 232.20 L143.27 231.24 L142.25 230.64 L141.34 229.91 L140.36 229.19 L139.48 228.45 L138.62 227.69 L137.53 227.38 L136.56 226.88 L135.63 226.31 L134.63 225.93 L133.77 225.12 L132.73 224.69 L131.82 224.08 L130.83 223.80 L129.88 223.54 L128.95 223.43 L128.14 223.12 L127.37 222.77 L126.64 222.30 L125.77 221.98 L125.08 221.27 L124.27 220.65 L123.43 220.04 L122.44 219.74 L121.45 219.48 L120.48 219.18 L119.48 218.91 L118.76 218.12 L117.90 217.50 L116.94 216.94 L115.81 216.15 L114.60 215.71 Z" fill="#7070ff"/>
<circle cx="618.50" cy="324.00" r="3.70" fill="#7070ff"/>
<path d="M113.35 270.53 L114.35 270.50 L115.35 270.63 L116.35 270.23 L117.36 269.95 L118.36 269.45 L119.36 269.44 L120.36 269.84 L121.35 270.13 L122.35 270.14 L123.36 269.72 L124.36 269.92 L125.36 269.88 L126.36 269.96 L127.36 269.82 L128.35 270.35 L129.35 270.76 L130.35 270.55 L131.36 270.01 L132.36 269.50 L133.36 269.71 L134.36 270.05 L135.35 270.56 L136.35 270.67 L137.35 270.87 L138.35 270.40 L139.36 269.99 L140.36 269.77 L141.36 270.09 L142.36 270.18 L143.35 270.47 L144.36 270.03 L145.36 270.18 L146.36 269.71 L147.36 270.17 L148.35 270.32 L149.35 270.45 L150.35 270.45 L151.35 270.63 L152.35 270.56 L153.36 270.32 L154.36 269.84 L155.36 269.92 L156.36 269.88 L157.36 269.72 L158.36 269.95 L159.36 269.91 L160.36 269.80 L161.36 269.77 L162.36 269.77 L163.36 270.40 L164.35 270.53 L165.35 270.59 L166.36 270.22 L167.36 270.24 L168.36 270.10 L169.36 270.11 L170.36 269.70 L171.36 269.91 L172.36 270.47 L173.35 270.63 L174.36 270.42 L175.36 270.47 L176.36 270.65 L177.35 271.02 L178.35 271.11 L179.35 271.19 L180.35 271.40 L181.35 270.89 L182.36 270.70 L183.36 270.88 L184.35 271.17 L185.35 271.14 L186.36 270.52 L187.36 270.49 L188.36 270.60 L189.35 271.13 L190.35 271.19 L191.35 271.35 L192.35 271.16 L193.35 271.10 L194.36 270.82 L195.36 270.90 L196.36 270.91 L197.35 271.10 L198.36 270.87 L199.36 270.88 L200.36 270.78 L201.36 270.73 L202.36 270.65 L203.36 270.83 L204.36 270.96 L205.35 271.31 L206.35 271.25 L207.35 271.59 L208.35 271.40 L209.36 270.96 L210.36 270.33 L211.37 270.30 L212.36 270.59 L213.36 270.89 L214.36 270.91 L215.36 271.09 L216.36 271.27 L217.36 270.96 L218.36 271.19 L219.36 270.67 L220.36 271.10 L221.37 270.69 L222.36 271.36 L223.36 271.16 L224.36 271.35 L225.36 271.49 L226.36 271.34 L227.37 270.82 L228.37 270.37 L229.37 270.00 L230.37 270.31 L231.37 270.29 L232.37 270.91 L233.37 270.93 L234.36 271.19 L235.37 270.76 L236.37 270.97 L237.37 270.86 L238.36 271.41 L239.36 271.86 L240.36 272.07 L241.36 272.06 L242.37 271.38 L243.37 271.09 L244.37 271.30 L245.37 271.14 L246.37 271.23 L247.37 270.94 L248.36 271.53 L249.37 271.48 L250.37 271.39 L251.37 271.30 L252.37 271.72 L253.37 271.74 L254.37 271.57 L255.37 271.57 L256.37 271.78 L257.37 271.72 L258.37 271.53 L259.37 271.29 L260.38 271.43 L261.38 271.00 L262.38 271.08 L263.38 271.05 L264.38 271.14 L265.38 271.08 L266.38 270.90 L267.38 271.04 L268.38 270.99 L269.38 271.65 L270.38 272.04 L271.38 271.88 L272.38 271.68 L273.38 271.38 L274.38 271.91 L275.38 271.80 L276.38 272.16 L277.38 272.09 L278.38 271.85 L279.38 271.45 L280.38 271.28 L281.38 271.44 L282.38 271.82 L283.38 272.32 L284.38 272.32 L285.38 272.50 L286.38 272.10 L287.38 272.19 L288.38 271.54 L289.38 271.45 L290.38 271.46 L291.38 271.63 L292.38 271.45 L293.38 271.31 L294.38 271.61 L295.38 271.97 L296.38 271.83 L297.38 271.78 L298.38 271.55 L299.38 271.59 L300.38 271.70 L301.38 271.84 L302.38 271.98 L303.38 271.67 L304.38 270.89 L305.38 271.06 L306.38 271.39 L307.38 271.50 L308.38 270.73 L309.38 270.30 L310.38 271.10 L311.38 271.76 L312.37 271.99 L313.38 271.59 L314.38 271.29 L315.38 271.26 L316.38 271.15 L317.37 271.64 L318.37 271.72 L319.37 271.98 L320.37 271.55 L321.37 271.75 L322.37 271.76 L323.37 271.54 L324.38 271.00 L325.38 270.58 L326.37 271.16 L327.38 271.11 L328.37 271.53 L329.37 271.45 L330.37 271.99 L331.37 271.68 L332.37 271.73 L333.37 271.36 L334.37 271.66 L335.37 271.03 L336.37 271.16 L337.37 271.25 L338.37 271.83 L339.36 271.95 L340.37 271.74 L341.37 271.32 L342.37 271.33 L343.37 271.21 L344.36 272.15 L345.36 271.94 L346.36 271.80 L347.36 271.42 L348.36 271.47 L349.36 271.77 L350.36 271.49 L351.36 271.46 L352.36 271.31 L353.36 271.66 L354.36 272.01 L355.35 272.36 L356.35 271.97 L357.35 271.78 L358.35 272.02 L359.34 272.30 L360.35 272.19 L361.35 272.04 L362.35 271.68 L363.35 271.93 L364.35 272.19 L365.34 272.65 L366.34 272.69 L367.34 272.49 L368.35 272.03 L369.34 272.15 L370.33 272.32 L371.33 272.40 L372.34 272.04 L373.34 271.96 L374.33 272.31 L375.34 272.15 L376.34 271.75 L377.35 271.39 L378.34 271.71 L379.34 272.15 L380.33 272.61 L381.33 272.49 L382.33 272.38 L383.33 272.11 L384.32 272.44 L385.33 272.40 L386.32 272.46 L387.32 272.51 L388.32 272.51 L389.32 272.52 L390.33 272.05 L391.33 272.06 L392.32 272.48 L393.32 272.47 L394.32 272.75 L395.33 272.19 L396.33 272.26 L397.32 272.26 L398.32 272.32 L399.32 272.45 L400.33 272.14 L401.32 272.67 L402.31 272.87 L403.31 272.87 L404.32 272.50 L405.32 272.49 L406.32 272.47 L407.32 272.72 L408.31 272.90 L409.31 273.23 L410.31 272.87 L411.31 272.96 L412.31 272.82 L413.30 273.41 L414.30 273.23 L415.30 273.22 L416.32 272.49 L417.31 272.80 L418.31 272.68 L419.30 273.20 L420.31 273.03 L421.30 273.55 L422.30 273.25 L423.30 273.44 L424.31 272.99 L425.31 273.17 L426.30 273.26 L427.30 273.38 L428.30 273.45 L429.31 272.71 L430.31 272.76 L431.32 272.26 L432.32 272.63 L433.31 272.79 L434.30 273.35 L435.31 273.09 L436.30 273.37 L437.30 273.34 L438.30 273.45 L439.31 273.05 L440.31 272.88 L441.31 272.84 L442.32 272.55 L443.32 272.61 L444.32 272.37 L445.31 272.78 L446.31 272.88 L447.30 273.28 L448.30 273.29 L449.30 273.30 L450.29 273.81 L451.30 273.49 L452.30 273.68 L453.30 273.43 L454.30 273.66 L455.30 273.40 L456.31 273.03 L457.30 273.38 L458.30 273.57 L459.29 273.94 L460.30 273.29 L461.31 273.23 L462.31 273.25 L463.30 273.67 L464.29 273.82 L465.30 273.55 L466.29 273.81 L467.30 273.80 L468.29 274.17 L469.29 274.09 L470.29 274.02 L471.29 273.87 L472.30 273.80 L473.30 273.76 L474.30 273.79 L475.30 273.63 L476.30 273.52 L477.30 273.57 L478.30 273.80 L479.29 274.31 L480.28 274.43 L481.29 274.22 L482.30 273.89 L483.29 274.04 L484.29 274.09 L485.30 273.88 L486.31 273.27 L487.31 273.28 L488.29 274.09 L489.29 274.19 L490.28 274.67 L491.29 274.14 L492.29 274.40 L493.30 273.93 L494.29 274.50 L495.28 274.89 L496.28 274.94 L497.29 274.68 L498.30 274.05 L499.30 274.13 L500.30 274.10 L501.29 274.37 L502.29 274.61 L503.30 274.08 L504.29 274.70 L505.29 274.54 L506.29 274.66 L507.31 273.97 L508.31 273.70 L509.31 273.90 L510.30 274.33 L511.29 274.69 L512.28 275.20 L513.28 275.26 L514.27 275.73 L515.28 275.31 L516.29 274.85 L517.30 274.49 L518.29 274.99 L519.28 275.54 L520.28 275.49 L521.28 275.32 L522.28 275.44 L523.27 275.77 L524.28 275.35 L525.28 275.17 L526.28 275.11 L527.27 275.57 L528.28 275.39 L529.29 274.81 L530.29 274.82 L531.28 275.08 L532.27 275.65 L533.28 275.14 L534.28 275.17 L535.28 275.17 L536.27 275.86 L537.28 275.45 L538.28 275.35 L539.29 274.96 L540.28 275.14 L541.29 275.12 L542.28 275.40 L543.29 275.19 L544.28 275.43 L545.27 275.83 L546.27 276.13 L547.27 275.99 L548.28 275.53 L549.28 275.45 L550.29 275.35 L551.29 275.29 L552.28 275.74 L553.28 275.88 L554.28 275.75 L555.29 275.21 L556.29 275.09 L557.30 275.02 L558.29 275.35 L559.29 275.66 L560.29 275.65 L561.29 275.33 L562.30 274.99 L563.30 275.17 L564.29 275.60 L565.29 275.40 L566.29 275.61 L567.29 275.59 L568.28 276.43 L569.28 276.46 L570.28 276.41 L571.28 276.26 L572.29 275.95 L573.29 275.85 L574.29 275.88 L575.29 276.10 L576.28 276.27 L577.28 276.20 L578.28 276.42 L579.28 276.52 L580.28 276.32 L581.29 275.94 L582.30 275.46 L583.30 275.19 L584.29 275.68 L585.29 276.00 L586.29 276.23 L587.29 275.78 L588.28 276.47 L589.28 276.69 L590.28 276.74 L591.29 276.29 L592.29 276.22 L593.28 276.73 L594.28 276.97 L595.27 277.34 L596.27 277.21 L597.28 276.83 L598.29 276.42 L599.29 276.08 L600.30 275.85 L601.29 276.37 L602.28 276.59 L603.28 276.61 L604.29 276.04 L605.30 275.64 L606.29 276.02 L607.29 276.01 L608.28 276.55 L609.29 276.27 L610.30 275.92 L611.29 276.36 L612.29 276.51 L613.28 276.82 L614.29 276.17 L615.29 276.14 L616.29 276.31 L617.29 276.29 L618.29 276.16 L618.45 275.99 L618.56 269.39 L618.41 269.24 L617.41 269.40 L616.41 269.08 L615.41 269.14 L614.41 269.21 L613.40 269.64 L612.40 269.74 L611.40 269.59 L610.41 269.07 L609.41 268.96 L608.41 268.99 L607.41 269.01 L606.41 268.88 L605.42 268.11 L604.42 268.49 L603.42 268.61 L602.41 268.95 L601.42 268.58 L600.42 268.51 L599.42 268.24 L598.43 268.06 L597.42 268.12 L596.42 268.43 L595.41 268.86 L594.41 268.95 L593.41 269.00 L592.41 269.19 L591.41 269.05 L590.40 269.24 L589.40 269.26 L588.40 269.46 L587.40 269.49 L586.40 269.50 L585.41 269.15 L584.40 269.23 L583.41 269.15 L582.40 269.27 L581.41 268.90 L580.42 268.33 L579.43 268.00 L578.43 267.79 L577.43 267.51 L576.42 268.13 L575.43 267.94 L574.42 268.14 L573.43 267.47 L572.43 267.69 L571.43 267.99 L570.42 268.39 L569.42 268.19 L568.42 268.08 L567.43 267.92 L566.42 268.37 L565.41 268.67 L564.41 268.95 L563.41 268.77 L562.41 268.78 L561.42 268.23 L560.42 268.30 L559.43 268.04 L558.42 268.26 L557.43 268.08 L556.43 268.00 L555.43 267.90 L554.43 267.94 L553.43 267.77 L552.43 267.82 L551.43 267.75 L550.43 267.88 L549.43 268.18 L548.43 268.11 L547.43 268.20 L546.44 267.81 L545.43 267.91 L544.43 268.07 L543.43 268.05 L542.43 268.30 L541.44 267.83 L540.44 267.57 L539.45 266.95 L538.45 267.31 L537.44 267.42 L536.43 268.07 L535.43 267.92 L534.43 268.00 L533.44 267.77 L532.43 267.84 L531.44 267.74 L530.44 267.67 L529.44 267.46 L528.44 267.59 L527.44 267.52 L526.44 267.64 L525.43 267.82 L524.43 268.11 L523.43 267.88 L522.43 267.89 L521.43 268.05 L520.42 268.14 L519.43 267.54 L518.44 267.31 L517.44 267.34 L516.43 267.53 L515.44 267.32 L514.44 267.22 L513.44 267.10 L512.44 267.31 L511.44 267.07 L510.44 267.24 L509.44 266.99 L508.43 267.48 L507.44 267.09 L506.44 267.18 L505.45 266.81 L504.43 267.47 L503.44 267.31 L502.44 267.07 L501.45 266.62 L500.44 267.23 L499.43 267.42 L498.44 267.33 L497.44 267.29 L496.44 267.30 L495.43 267.57 L494.44 266.99 L493.44 267.07 L492.44 267.18 L491.43 267.51 L490.43 267.58 L489.44 267.26 L488.44 266.95 L487.45 266.89 L486.44 267.17 L485.44 267.18 L484.45 266.78 L483.44 267.04 L482.45 266.80 L481.44 266.87 L480.44 266.96 L479.45 266.71 L478.45 266.60 L477.46 266.12 L476.45 266.52 L475.45 266.66 L474.44 266.84 L473.44 266.95 L472.44 267.02 L471.44 266.88 L470.46 266.22 L469.46 266.14 L468.46 266.10 L467.45 266.47 L466.45 266.69 L465.45 266.30 L464.44 266.84 L463.45 266.63 L462.44 266.81 L461.45 266.29 L460.46 266.16 L459.45 266.49 L458.44 266.65 L457.45 266.60 L456.44 266.72 L455.45 266.13 L454.46 266.02 L453.47 265.43 L452.46 265.74 L451.45 266.02 L450.45 266.18 L449.45 266.23 L448.45 266.16 L447.46 265.79 L446.46 265.94 L445.45 266.02 L444.45 266.33 L443.45 266.08 L442.46 265.60 L441.46 265.53 L440.46 265.71 L439.45 265.99 L438.46 265.74 L437.46 265.38 L436.46 265.47 L435.45 265.80 L434.45 266.04 L433.45 265.89 L432.46 265.61 L431.46 265.36 L430.47 265.00 L429.47 265.04 L428.47 265.15 L427.46 265.58 L426.46 265.54 L425.45 265.92 L424.45 265.92 L423.45 265.93 L422.46 265.21 L421.47 264.66 L420.47 264.74 L419.46 264.91 L418.45 265.69 L417.45 265.68 L416.45 265.68 L415.46 264.94 L414.46 265.32 L413.45 265.70 L412.44 266.32 L411.44 266.23 L410.44 265.77 L409.45 265.34 L408.46 264.94 L407.46 264.69 L406.46 264.81 L405.46 265.03 L404.45 265.42 L403.45 265.53 L402.45 265.23 L401.45 265.32 L400.44 265.56 L399.44 265.54 L398.45 265.13 L397.46 264.91 L396.45 265.03 L395.44 265.41 L394.44 265.36 L393.43 265.94 L392.44 265.39 L391.44 265.30 L390.45 264.68 L389.45 264.91 L388.45 264.81 L387.46 264.45 L386.45 264.57 L385.46 264.38 L384.46 264.35 L383.46 264.13 L382.45 264.56 L381.44 265.20 L380.43 265.48 L379.44 264.92 L378.45 264.42 L377.45 264.08 L376.45 264.14 L375.45 264.35 L374.45 264.21 L373.45 264.37 L372.45 264.28 L371.44 264.53 L370.45 264.43 L369.44 264.59 L368.43 264.74 L367.43 264.63 L366.44 263.87 L365.45 263.39 L364.45 263.42 L363.44 264.00 L362.43 264.48 L361.43 264.54 L360.43 264.43 L359.43 264.34 L358.43 264.64 L357.43 264.59 L356.43 264.41 L355.43 263.93 L354.43 263.81 L353.43 263.71 L352.42 264.43 L351.42 264.59 L350.42 264.65 L349.42 264.58 L348.42 264.55 L347.42 264.54 L346.42 264.38 L345.43 263.96 L344.43 263.70 L343.43 263.54 L342.42 263.92 L341.42 264.45 L340.42 264.29 L339.42 264.33 L338.42 264.18 L337.42 264.21 L336.42 264.57 L335.41 264.58 L334.41 264.74 L333.42 264.40 L332.41 264.79 L331.41 264.64 L330.41 264.21 L329.41 264.04 L328.41 264.04 L327.41 264.38 L326.41 263.88 L325.41 263.74 L324.41 263.83 L323.41 264.07 L322.41 264.38 L321.41 264.62 L320.41 264.47 L319.41 264.29 L318.41 263.87 L317.41 263.74 L316.41 263.73 L315.41 264.00 L314.41 264.24 L313.41 264.19 L312.41 263.91 L311.41 264.19 L310.41 264.38 L309.41 264.25 L308.41 264.51 L307.41 264.25 L306.41 264.68 L305.41 263.71 L304.40 264.35 L303.41 264.15 L302.40 264.80 L301.40 264.32 L300.40 264.75 L299.40 264.72 L298.40 264.98 L297.40 264.39 L296.41 264.11 L295.41 263.81 L294.41 263.95 L293.41 263.79 L292.40 263.92 L291.40 263.99 L290.40 264.16 L289.41 263.79 L288.40 263.94 L287.40 264.39 L286.40 264.34 L285.40 264.28 L284.41 263.80 L283.40 263.89 L282.40 264.08 L281.40 264.29 L280.40 264.45 L279.40 264.31 L278.41 264.14 L277.41 264.11 L276.41 264.04 L275.40 264.30 L274.41 263.83 L273.41 263.85 L272.41 263.62 L271.40 264.39 L270.41 264.04 L269.41 263.87 L268.41 263.32 L267.41 263.85 L266.41 264.09 L265.41 264.51 L264.41 263.99 L263.41 263.68 L262.41 263.42 L261.41 263.51 L260.41 263.88 L259.41 264.23 L258.41 264.64 L257.41 264.45 L256.41 264.47 L255.41 264.41 L254.41 264.54 L253.41 264.55 L252.41 264.34 L251.41 264.05 L250.41 264.19 L249.42 264.11 L248.42 264.10 L247.42 264.06 L246.42 263.92 L245.42 263.75 L244.42 263.40 L243.42 263.78 L242.42 264.08 L241.42 264.18 L240.42 263.54 L239.43 263.24 L238.43 263.06 L237.43 263.17 L236.43 263.29 L235.42 263.55 L234.42 263.83 L233.42 264.23 L232.42 263.94 L231.42 263.90 L230.42 263.67 L229.43 263.33 L228.42 263.57 L227.42 263.94 L226.42 264.46 L225.42 264.24 L224.43 263.64 L223.43 263.30 L222.43 263.28 L221.43 263.37 L220.43 263.10 L219.43 263.19 L218.43 263.49 L217.43 263.80 L216.43 263.89 L215.43 263.50 L214.43 263.76 L213.43 263.49 L212.43 263.69 L211.43 263.40 L210.43 263.60 L209.43 263.59 L208.43 263.72 L207.43 263.39 L206.43 263.28 L205.43 263.35 L204.43 263.50 L203.43 263.59 L202.43 263.60 L201.43 263.61 L200.43 263.28 L199.43 263.42 L198.43 263.62 L197.43 264.14 L196.43 263.91 L195.43 263.68 L194.43 263.70 L193.43 263.95 L192.43 264.14 L191.43 263.53 L190.43 263.40 L189.44 263.05 L188.43 263.86 L187.43 263.58 L186.43 263.63 L185.43 263.21 L184.43 263.44 L183.43 263.66 L182.43 263.71 L181.43 263.49 L180.43 263.77 L179.43 263.64 L178.43 264.17 L177.42 264.22 L176.42 264.27 L175.43 263.59 L174.44 263.07 L173.44 263.27 L172.44 263.20 L171.43 263.37 L170.44 262.90 L169.44 263.26 L168.44 262.98 L167.43 263.50 L166.44 263.37 L165.43 263.73 L164.44 262.83 L163.43 263.51 L162.44 263.15 L161.43 263.62 L160.44 263.05 L159.44 263.34 L158.43 263.58 L157.43 263.58 L156.43 263.53 L155.44 263.16 L154.44 263.25 L153.44 263.15 L152.44 263.16 L151.44 263.03 L150.44 263.28 L149.43 264.11 L148.43 263.73 L147.43 263.49 L146.45 262.50 L145.44 262.67 L144.44 262.58 L143.44 262.67 L142.45 262.53 L141.45 262.22 L140.45 262.39 L139.45 262.37 L138.45 262.50 L137.45 262.50 L136.45 262.50 L135.44 262.61 L134.44 262.85 L133.44 262.96 L132.44 263.02 L131.44 262.71 L130.44 262.83 L129.44 262.87 L128.44 262.77 L127.44 262.86 L126.44 262.96 L125.44 263.07 L124.44 262.60 L123.45 262.27 L122.45 262.44 L121.44 262.94 L120.44 263.21 L119.44 262.74 L118.45 262.26 L117.45 262.03 L116.44 262.58 L115.44 262.50 L114.44 262.43 L113.45 261.97 Z" fill="#ff6c6c"/>
<circle cx="618.50" cy="273.00" r="3.70" fill="#ff6c6c"/>
<path d="M112.62 135.13 L113.65 135.16 L114.75 134.79 L115.71 135.03 L116.63 135.37 L117.51 135.83 L118.44 135.96 L119.44 135.78 L120.20 136.40 L121.00 136.80 L121.76 137.35 L122.71 137.52 L123.60 137.86 L124.46 138.31 L125.42 138.52 L126.35 138.84 L127.23 139.30 L128.06 139.90 L128.89 140.44 L129.78 140.82 L130.65 141.23 L131.65 141.44 L132.73 141.45 L133.85 141.39 L134.67 142.01 L135.59 142.42 L136.44 142.97 L137.42 143.21 L138.08 144.14 L139.09 144.31 L140.10 144.50 L141.18 144.58 L141.99 145.27 L142.83 145.92 L143.64 146.67 L144.49 147.36 L145.26 148.33 L146.22 148.88 L147.38 148.83 L148.68 148.26 L149.78 148.20 L150.66 148.72 L151.41 149.57 L152.25 150.07 L153.06 150.62 L154.03 150.72 L154.94 151.03 L155.87 151.30 L156.80 151.62 L157.69 152.02 L158.76 152.04 L159.59 152.66 L160.52 153.05 L161.09 154.31 L162.10 154.47 L163.20 154.41 L164.42 154.06 L165.36 154.42 L166.22 154.96 L167.21 155.22 L168.17 155.56 L169.16 155.80 L169.92 156.66 L170.96 156.79 L171.76 157.56 L172.71 157.89 L173.51 158.64 L174.40 159.16 L175.39 159.38 L176.30 159.82 L177.41 159.69 L178.48 159.69 L179.52 159.74 L180.39 160.29 L181.17 161.09 L182.17 161.29 L183.19 161.47 L184.29 161.43 L185.08 162.17 L185.98 162.49 L186.73 163.22 L187.72 163.32 L188.64 163.64 L189.71 163.62 L190.75 163.71 L191.83 163.69 L192.75 164.09 L193.61 164.66 L194.18 166.00 L195.06 166.57 L195.89 167.28 L196.99 167.23 L197.99 167.45 L199.12 167.31 L200.17 167.35 L201.01 168.03 L201.89 168.57 L202.79 169.07 L203.80 169.26 L204.74 169.64 L205.70 170.01 L206.58 170.59 L207.50 171.02 L208.47 171.30 L209.59 171.09 L210.61 171.17 L211.51 171.63 L212.39 172.13 L213.33 172.47 L214.32 172.65 L215.42 172.50 L216.35 172.87 L217.24 173.37 L218.15 173.81 L219.10 174.15 L220.15 174.16 L221.08 174.57 L222.01 174.96 L222.98 175.21 L223.84 175.84 L224.73 176.35 L225.55 177.10 L226.64 176.97 L227.81 176.59 L228.88 176.52 L229.77 177.03 L230.60 177.71 L231.53 178.08 L232.50 178.36 L233.48 178.59 L234.41 179.05 L235.48 179.04 L236.42 179.47 L237.42 179.72 L238.36 180.17 L239.17 181.13 L240.18 181.33 L241.12 181.76 L242.36 180.95 L243.33 181.19 L244.31 181.42 L245.15 182.15 L246.15 182.23 L247.06 182.66 L248.15 182.38 L249.08 182.73 L250.19 182.37 L251.07 182.90 L251.98 183.32 L252.93 183.63 L253.85 184.04 L254.83 184.25 L255.80 184.50 L256.86 184.42 L257.89 184.47 L258.74 185.18 L259.59 185.95 L260.58 186.18 L261.65 186.11 L262.73 185.98 L263.83 185.79 L264.74 186.33 L265.71 186.61 L266.57 187.35 L267.51 187.76 L268.49 187.96 L269.47 188.09 L270.46 188.25 L271.43 188.44 L272.37 188.84 L273.42 188.79 L274.39 189.11 L275.39 189.37 L276.37 189.72 L277.43 189.69 L278.41 190.12 L279.45 190.16 L280.45 190.49 L281.48 190.56 L282.49 190.70 L283.48 191.04 L284.49 191.25 L285.46 191.68 L286.52 191.62 L287.56 191.71 L288.61 191.58 L289.63 191.61 L290.69 191.31 L291.68 191.51 L292.68 191.62 L293.63 192.17 L294.60 192.36 L295.54 192.73 L296.51 192.79 L297.49 192.92 L298.53 192.74 L299.51 193.13 L300.58 192.71 L301.61 193.00 L302.72 192.15 L303.72 192.47 L304.74 192.41 L305.74 192.56 L306.75 192.79 L307.76 192.96 L308.77 193.30 L309.80 192.99 L310.80 193.31 L311.83 193.28 L312.84 193.69 L313.86 193.08 L314.88 193.45 L315.91 193.22 L316.92 193.75 L317.94 193.35 L318.96 193.40 L319.98 193.27 L321.01 193.33 L322.04 193.77 L323.05 193.59 L324.07 193.51 L325.09 193.24 L326.11 193.27 L327.11 193.06 L328.11 192.71 L329.14 192.77 L330.16 192.92 L331.19 193.15 L332.16 192.67 L333.17 192.64 L334.14 192.16 L335.16 192.25 L336.15 191.97 L337.14 191.88 L338.19 192.38 L339.20 192.46 L340.22 192.72 L341.18 192.22 L342.21 192.52 L343.18 192.15 L344.15 191.72 L345.12 191.35 L346.11 191.19 L347.16 191.69 L348.13 191.28 L349.14 191.34 L350.13 191.09 L351.12 190.96 L352.12 190.87 L353.11 190.71 L354.10 190.55 L355.10 190.51 L356.06 190.06 L357.08 190.25 L358.10 190.53 L359.15 191.05 L360.14 190.96 L361.10 190.49 L362.06 189.95 L363.08 190.08 L364.09 190.19 L365.08 189.98 L366.04 189.53 L367.00 189.02 L368.03 189.28 L369.04 189.45 L370.06 189.67 L371.06 189.69 L372.06 189.68 L373.05 189.57 L374.04 189.48 L375.01 189.17 L376.02 189.26 L377.02 189.30 L377.99 188.88 L378.99 189.00 L379.97 188.69 L381.00 189.24 L381.97 188.83 L382.99 189.12 L383.97 188.90 L384.97 188.91 L385.94 188.41 L386.93 188.36 L387.93 188.31 L388.92 188.16 L389.91 188.07 L390.89 187.80 L391.90 187.97 L392.91 188.16 L393.92 188.26 L394.93 188.47 L395.90 188.07 L396.89 187.91 L397.87 187.55 L398.87 187.45 L399.87 187.56 L400.86 187.39 L401.86 187.37 L402.86 187.30 L403.85 187.24 L404.86 187.35 L405.85 187.23 L406.86 187.59 L407.87 187.86 L408.88 187.95 L409.86 187.52 L410.85 187.35 L411.87 187.72 L412.87 187.74 L413.86 187.47 L414.85 187.19 L415.84 187.21 L416.84 187.14 L417.83 187.07 L418.82 186.86 L419.82 187.11 L420.80 186.65 L421.80 186.92 L422.78 186.67 L423.77 186.64 L424.75 186.68 L425.74 186.37 L426.73 186.66 L427.71 186.43 L428.71 186.96 L429.69 186.58 L430.67 186.82 L431.67 187.04 L432.65 187.17 L433.64 186.98 L434.63 186.76 L435.61 187.70 L436.60 187.77 L437.60 187.43 L438.61 186.72 L439.61 186.65 L440.59 186.72 L441.60 186.42 L442.58 186.80 L443.58 186.59 L444.56 186.86 L445.58 186.16 L446.58 186.05 L447.57 186.25 L448.57 186.39 L449.54 187.07 L450.54 187.00 L451.54 187.13 L452.54 187.17 L453.55 186.89 L454.54 187.31 L455.54 187.44 L456.54 187.50 L457.54 187.41 L458.54 187.53 L459.53 187.92 L460.54 187.65 L461.54 187.57 L462.54 187.54 L463.53 187.91 L464.55 187.43 L465.54 187.53 L466.54 187.57 L467.54 187.64 L468.54 187.71 L469.55 187.60 L470.54 188.06 L471.53 188.16 L472.54 188.08 L473.56 187.64 L474.55 187.79 L475.54 188.14 L476.54 188.33 L477.54 188.30 L478.54 188.32 L479.54 188.58 L480.55 188.27 L481.56 188.05 L482.55 188.26 L483.55 188.38 L484.55 188.47 L485.56 188.36 L486.56 188.17 L487.56 188.24 L488.57 188.13 L489.55 188.98 L490.57 188.68 L491.58 188.70 L492.61 187.99 L493.62 188.00 L494.62 188.47 L495.62 188.98 L496.62 189.26 L497.62 188.75 L498.62 188.36 L499.60 188.44 L500.59 188.45 L501.57 188.57 L502.54 188.87 L503.51 189.06 L504.44 189.25 L505.44 188.77 L506.38 189.10 L507.34 188.83 L508.31 189.02 L509.33 188.57 L510.25 188.93 L511.20 189.24 L512.18 189.28 L513.15 189.27 L514.06 189.88 L514.99 190.32 L515.96 190.42 L517.04 189.97 L518.02 190.15 L519.03 190.16 L520.00 190.45 L521.04 190.27 L521.97 190.82 L522.98 190.82 L523.87 191.55 L524.85 191.74 L525.79 192.13 L526.77 192.26 L527.73 192.54 L528.74 192.53 L529.70 192.79 L530.70 192.81 L531.61 193.36 L532.66 193.11 L533.65 193.11 L534.63 193.29 L535.60 193.46 L536.57 193.64 L537.55 193.76 L538.55 193.77 L539.57 193.67 L540.51 193.93 L541.38 194.59 L542.19 195.51 L543.17 195.66 L544.22 195.48 L545.24 195.49 L546.21 195.71 L547.08 196.33 L548.06 196.55 L549.03 196.79 L550.01 197.01 L551.06 196.91 L552.06 197.08 L553.14 196.88 L554.12 197.13 L555.09 197.42 L556.06 197.71 L557.08 197.75 L558.14 197.63 L559.06 198.13 L559.92 198.87 L560.85 199.34 L561.81 199.64 L562.93 199.16 L563.93 199.23 L564.91 199.39 L565.78 200.02 L566.71 200.38 L567.75 200.26 L568.70 200.53 L569.62 200.91 L570.58 201.14 L571.41 201.85 L572.42 201.85 L573.33 202.22 L574.28 202.43 L575.25 202.60 L576.14 203.09 L577.14 203.15 L578.11 203.35 L579.12 203.37 L580.13 203.41 L581.04 203.78 L582.01 203.97 L582.88 204.48 L583.77 204.87 L584.70 205.11 L585.70 205.16 L586.56 205.65 L587.49 205.98 L588.42 206.32 L589.32 206.76 L590.11 207.53 L591.04 207.96 L592.07 208.11 L593.07 208.33 L593.86 209.14 L594.77 209.60 L595.71 209.95 L596.88 209.62 L597.93 209.63 L598.91 209.85 L599.84 210.18 L600.74 210.60 L601.68 210.94 L602.59 211.36 L603.56 211.60 L604.59 211.68 L605.58 211.85 L606.35 212.67 L607.09 213.55 L607.91 214.21 L608.94 214.25 L609.97 214.32 L611.01 214.40 L611.97 214.66 L613.04 214.65 L613.91 215.16 L614.94 215.25 L615.78 215.88 L616.64 216.44 L617.14 216.96 L619.95 209.41 L619.16 209.66 L618.21 209.35 L617.28 208.97 L616.40 208.47 L615.26 208.65 L614.28 208.43 L613.39 207.92 L612.48 207.49 L611.60 206.96 L610.62 206.72 L609.81 206.00 L608.72 206.07 L607.95 205.23 L607.01 204.88 L606.17 204.24 L605.09 204.28 L604.11 204.03 L603.20 203.60 L602.19 203.43 L601.27 203.00 L600.25 202.87 L599.26 202.68 L598.22 202.61 L597.28 202.28 L596.37 201.88 L595.53 201.26 L594.57 201.03 L593.84 200.17 L592.85 200.00 L591.90 199.71 L590.81 199.78 L589.87 199.40 L589.01 198.80 L588.20 198.02 L587.20 197.68 L586.09 197.75 L584.87 198.19 L583.94 197.75 L583.02 197.25 L582.17 196.55 L581.09 196.63 L580.09 196.39 L579.07 196.27 L578.09 196.03 L577.13 195.69 L576.20 195.27 L575.24 194.90 L574.36 194.17 L573.41 193.78 L572.35 193.83 L571.27 193.94 L570.21 194.03 L569.31 193.46 L568.30 193.29 L567.34 192.94 L566.35 192.74 L565.29 192.86 L564.27 192.84 L563.29 192.63 L562.41 191.95 L561.43 191.76 L560.43 191.69 L559.40 191.73 L558.51 191.13 L557.50 191.10 L556.59 190.62 L555.56 190.68 L554.74 189.86 L553.74 189.81 L552.78 189.52 L551.78 189.43 L550.80 189.23 L549.83 189.00 L548.86 188.77 L547.86 188.61 L546.83 188.60 L545.91 188.12 L545.03 187.41 L544.13 186.82 L543.03 187.09 L542.06 186.81 L541.03 186.68 L539.99 186.66 L538.92 186.85 L537.96 186.44 L537.01 186.04 L535.96 186.14 L534.95 186.09 L533.99 185.65 L533.03 185.28 L532.01 185.24 L530.94 185.50 L530.03 184.89 L529.02 184.77 L528.08 184.31 L527.01 184.61 L526.02 184.42 L525.01 184.39 L524.05 184.01 L523.06 183.85 L522.15 183.22 L521.14 183.20 L520.16 182.99 L519.14 183.07 L518.04 183.56 L517.02 183.60 L516.03 183.37 L515.12 182.56 L514.17 182.08 L513.09 182.24 L512.07 182.13 L511.04 182.17 L510.00 181.96 L508.93 182.42 L507.91 182.37 L506.84 182.53 L505.82 182.30 L504.80 182.45 L503.77 182.03 L502.76 181.58 L501.74 181.41 L500.72 181.59 L499.71 181.75 L498.69 181.82 L497.68 181.84 L496.68 181.80 L495.68 181.75 L494.68 181.79 L493.70 181.69 L492.71 181.65 L491.73 181.38 L490.74 181.35 L489.75 181.35 L488.75 181.38 L487.76 181.20 L486.77 180.78 L485.77 180.74 L484.77 180.81 L483.76 181.37 L482.75 181.54 L481.76 181.43 L480.78 180.76 L479.78 180.59 L478.78 180.83 L477.76 181.44 L476.75 181.68 L475.76 181.32 L474.78 180.77 L473.80 180.37 L472.79 180.51 L471.79 180.64 L470.80 180.36 L469.81 180.21 L468.81 180.26 L467.80 180.57 L466.79 180.80 L465.79 180.74 L464.79 180.68 L463.80 180.39 L462.80 180.39 L461.81 180.06 L460.82 179.96 L459.83 179.48 L458.82 179.85 L457.81 180.18 L456.81 180.21 L455.82 179.90 L454.82 179.83 L453.81 180.19 L452.82 180.01 L451.84 179.59 L450.85 179.29 L449.84 179.39 L448.83 179.68 L447.82 179.80 L446.81 180.00 L445.80 180.06 L444.79 180.22 L443.78 180.17 L442.79 179.57 L441.80 179.00 L440.81 178.58 L439.78 178.85 L438.77 179.23 L437.75 179.77 L436.74 180.20 L435.74 180.06 L434.73 180.08 L433.73 179.80 L432.71 179.48 L431.71 179.23 L430.70 179.34 L429.68 179.48 L428.67 179.76 L427.66 179.72 L426.64 179.73 L425.63 179.43 L424.62 179.18 L423.60 179.24 L422.58 179.02 L421.57 179.28 L420.58 179.67 L419.58 179.94 L418.56 179.73 L417.55 179.54 L416.55 179.82 L415.56 180.17 L414.57 180.46 L413.57 180.50 L412.56 180.43 L411.56 180.43 L410.55 180.25 L409.56 180.41 L408.55 180.22 L407.55 180.16 L406.53 179.85 L405.52 179.75 L404.53 179.95 L403.55 180.43 L402.56 180.78 L401.56 180.90 L400.54 180.56 L399.51 179.99 L398.51 180.05 L397.50 179.90 L396.54 180.74 L395.55 181.00 L394.56 181.44 L393.54 181.07 L392.52 180.76 L391.52 180.83 L390.52 181.00 L389.54 181.34 L388.54 181.43 L387.52 181.18 L386.51 181.05 L385.49 180.88 L384.51 181.24 L383.52 181.44 L382.51 181.55 L381.53 181.88 L380.54 182.10 L379.54 182.18 L378.53 182.19 L377.51 182.02 L376.52 182.21 L375.47 181.61 L374.45 181.52 L373.45 181.63 L372.49 182.20 L371.48 182.17 L370.50 182.53 L369.51 182.76 L368.53 183.08 L367.49 182.58 L366.46 182.27 L365.44 182.12 L364.47 182.48 L363.50 182.94 L362.52 183.20 L361.50 183.06 L360.46 182.54 L359.44 182.39 L358.44 182.45 L357.50 183.27 L356.52 183.54 L355.56 184.07 L354.53 183.81 L353.54 183.97 L352.50 183.54 L351.51 183.66 L350.50 183.66 L349.55 184.27 L348.54 184.16 L347.57 184.59 L346.57 184.60 L345.58 184.62 L344.54 184.23 L343.52 184.04 L342.54 184.32 L341.55 184.46 L340.54 184.48 L339.56 184.70 L338.53 184.43 L337.53 184.48 L336.55 184.65 L335.59 185.28 L334.59 185.21 L333.59 185.14 L332.60 185.18 L331.62 185.48 L330.58 184.79 L329.57 184.52 L328.59 184.71 L327.66 185.31 L326.73 186.31 L325.75 186.64 L324.76 186.45 L323.77 186.06 L322.75 185.27 L321.79 185.94 L320.80 185.38 L319.84 186.12 L318.86 185.87 L317.88 185.90 L316.90 185.88 L315.91 185.71 L314.94 185.88 L313.96 185.66 L312.98 185.69 L311.99 185.98 L311.02 185.96 L310.03 186.10 L309.06 185.74 L308.07 185.92 L307.08 186.11 L306.11 185.82 L305.12 185.88 L304.16 185.46 L303.15 185.97 L302.21 185.56 L301.25 185.69 L300.26 185.80 L299.27 185.77 L298.30 185.44 L297.35 184.81 L296.31 184.92 L295.28 184.99 L294.25 185.11 L293.28 184.65 L292.24 185.04 L291.28 184.75 L290.29 184.79 L289.35 184.33 L288.37 184.41 L287.43 184.15 L286.46 184.10 L285.47 184.11 L284.49 184.08 L283.56 183.68 L282.64 183.26 L281.73 182.80 L280.81 182.53 L279.84 182.50 L278.78 182.93 L277.76 183.08 L276.77 183.05 L275.93 182.32 L275.01 182.00 L274.10 181.53 L273.06 181.57 L272.15 181.06 L271.04 181.37 L270.07 181.12 L269.02 181.21 L268.17 180.46 L267.12 180.59 L266.18 180.24 L265.22 180.02 L264.36 179.43 L263.49 178.86 L262.62 178.33 L261.57 178.46 L260.59 178.33 L259.53 178.46 L258.62 178.02 L257.60 177.96 L256.64 177.69 L255.67 177.44 L254.72 177.09 L253.77 176.77 L252.84 176.33 L251.90 175.92 L250.98 175.38 L249.97 175.25 L249.02 174.89 L248.05 174.58 L247.09 174.24 L245.98 174.53 L244.91 174.72 L244.00 174.25 L243.06 173.93 L242.06 173.85 L241.04 173.88 L240.05 173.78 L239.09 173.62 L238.23 173.05 L237.38 172.49 L236.50 172.00 L235.57 171.70 L234.65 171.33 L233.73 170.94 L232.65 171.03 L231.69 170.75 L230.79 170.25 L229.96 169.57 L228.89 169.66 L227.92 169.41 L226.97 169.13 L226.13 168.46 L225.20 168.12 L224.11 168.28 L223.08 168.21 L222.10 168.04 L221.25 167.43 L220.34 167.01 L219.37 166.77 L218.39 166.55 L217.44 166.24 L216.49 165.93 L215.60 165.42 L214.65 165.09 L213.68 164.80 L212.69 164.62 L211.72 164.37 L210.75 164.12 L209.80 163.82 L208.90 163.37 L208.02 162.91 L207.09 162.63 L206.15 162.32 L205.19 162.12 L204.34 161.55 L203.52 160.89 L202.45 160.98 L201.57 160.48 L200.37 160.91 L199.55 160.28 L198.50 160.28 L197.70 159.62 L196.99 158.74 L196.09 158.35 L195.12 158.14 L194.06 158.10 L193.00 158.06 L192.08 157.65 L191.04 157.54 L190.21 156.86 L189.17 156.68 L188.23 156.21 L187.23 155.93 L186.36 155.34 L185.60 154.58 L184.70 154.18 L183.80 153.77 L182.68 153.94 L181.60 154.00 L180.63 153.74 L179.80 153.10 L179.09 152.14 L178.34 151.29 L177.36 151.07 L176.28 151.16 L175.27 151.03 L174.35 150.65 L173.43 150.30 L172.45 150.14 L171.66 149.47 L170.65 149.35 L169.78 148.89 L168.73 148.83 L168.03 147.95 L167.16 147.42 L166.17 147.18 L165.08 147.21 L164.02 147.13 L163.03 146.94 L162.15 146.45 L161.29 145.92 L160.31 145.67 L159.54 144.87 L158.42 144.92 L157.58 144.26 L156.46 144.27 L155.55 143.74 L154.59 143.33 L153.66 142.86 L152.71 142.46 L151.80 142.01 L150.90 141.64 L150.01 141.30 L149.18 140.84 L148.30 140.54 L147.44 140.20 L146.53 139.94 L145.57 139.72 L144.73 139.24 L143.76 139.04 L142.80 138.75 L141.92 138.26 L141.06 137.73 L140.43 136.67 L139.65 135.95 L138.74 135.53 L137.58 135.69 L136.34 136.00 L135.51 135.39 L134.70 134.73 L133.94 133.95 L132.97 133.61 L132.17 132.86 L131.26 132.38 L130.22 132.24 L129.23 132.02 L128.20 131.83 L127.20 131.56 L126.05 131.64 L125.21 130.93 L124.40 130.11 L123.41 129.62 L122.25 129.56 L121.20 129.20 L120.20 128.71 L119.25 128.09 L118.18 128.03 L117.17 127.79 L116.10 127.96 L115.10 127.89 L114.10 127.87 Z" fill="#68ff68"/>
<circle cx="618.50" cy="213.30" r="3.60" fill="#68ff68"/>
<path d="M113.40 415.80 L115.40 415.73 L117.40 415.60 L119.40 415.59 L121.40 415.51 L123.40 415.61 L125.40 415.54 L127.40 415.57 L129.40 415.46 L131.40 415.41 L133.40 415.47 L135.40 415.48 L137.40 415.63 L139.40 415.48 L141.40 415.53 L143.40 415.33 L145.40 415.38 L147.40 415.13 L149.40 415.19 L151.40 415.03 L153.40 415.14 L155.40 415.11 L157.40 415.25 L159.40 415.30 L161.40 415.33 L163.40 415.34 L165.40 415.21 L167.40 415.15 L169.40 415.05 L171.40 415.13 L173.40 415.23 L175.40 415.29 L177.40 415.12 L179.40 415.06 L181.40 415.10 L183.40 415.25 L185.40 415.32 L187.40 415.13 L189.40 415.05 L191.40 414.96 L193.40 414.83 L195.40 414.62 L197.40 414.62 L199.40 414.82 L201.40 415.24 L203.40 415.29 L205.40 415.41 L207.40 415.32 L209.40 415.15 L211.40 414.97 L213.40 415.00 L215.40 415.11 L217.40 415.09 L219.40 414.91 L221.40 414.94 L223.40 415.16 L225.40 415.21 L227.40 415.08 L229.40 415.09 L231.40 415.18 L233.40 415.23 L235.40 415.17 L237.40 415.13 L239.40 415.26 L241.40 415.18 L243.40 415.07 L245.40 414.87 L247.40 414.90 L249.40 414.96 L251.40 414.79 L253.40 414.70 L255.40 414.68 L257.40 414.85 L259.40 414.98 L261.40 414.97 L263.40 415.12 L265.40 415.09 L267.40 415.07 L269.40 414.98 L271.40 415.01 L273.40 415.01 L275.40 414.98 L277.40 414.93 L279.40 415.16 L281.40 415.20 L283.40 415.30 L285.40 415.07 L287.40 415.09 L289.40 414.99 L291.40 415.02 L293.40 414.99 L295.40 415.00 L297.40 414.90 L299.40 414.96 L301.40 414.94 L303.40 414.93 L305.40 414.89 L307.40 414.83 L309.40 414.92 L311.40 414.91 L313.40 414.92 L315.40 414.79 L317.40 414.83 L319.40 414.88 L321.40 415.01 L323.40 415.09 L325.40 415.07 L327.40 415.10 L329.40 415.08 L331.40 415.22 L333.40 415.26 L335.40 415.19 L337.40 415.07 L339.40 415.00 L341.40 415.07 L343.40 415.10 L345.40 415.04 L347.40 414.93 L349.40 414.80 L351.40 414.73 L353.40 414.74 L355.40 414.84 L357.40 415.08 L359.40 415.02 L361.40 415.05 L363.40 414.86 L365.40 414.80 L367.40 414.96 L369.40 415.07 L371.40 415.15 L373.40 414.87 L375.40 414.85 L377.40 414.70 L379.40 414.82 L381.40 414.78 L383.40 414.83 L385.40 414.80 L387.40 414.77 L389.40 414.81 L391.40 414.86 L393.40 414.94 L395.40 415.00 L397.40 414.94 L399.40 414.98 L401.40 414.93 L403.40 414.91 L405.40 414.82 L407.40 414.77 L409.40 414.82 L411.40 414.87 L413.40 414.98 L415.40 415.13 L417.40 414.95 L419.40 414.89 L421.40 414.63 L423.40 414.73 L425.40 414.74 L427.40 414.78 L429.40 414.64 L431.40 414.70 L433.40 414.79 L435.40 414.78 L437.40 414.81 L439.40 414.69 L441.40 414.78 L443.40 414.74 L445.40 414.70 L447.40 414.75 L449.40 414.63 L451.40 414.67 L453.40 414.72 L455.40 414.86 L457.40 415.02 L459.40 414.91 L461.40 414.76 L463.40 414.54 L465.40 414.50 L467.40 414.61 L469.40 414.70 L471.40 414.92 L473.40 414.97 L475.40 415.10 L477.40 414.91 L479.40 414.60 L481.40 414.42 L483.40 414.50 L485.40 414.67 L487.40 414.67 L489.40 414.50 L491.40 414.49 L493.40 414.69 L495.40 414.92 L497.40 414.88 L499.40 414.64 L501.40 414.60 L503.40 414.70 L505.40 414.68 L507.40 414.72 L509.40 414.67 L511.40 414.76 L513.40 414.70 L515.40 414.68 L517.40 414.60 L519.40 414.34 L521.40 414.19 L523.40 414.38 L525.40 414.49 L527.40 414.60 L529.40 414.47 L531.40 414.50 L533.40 414.54 L535.40 414.34 L537.40 414.45 L539.40 414.31 L541.40 414.49 L543.40 414.39 L545.40 414.47 L547.40 414.61 L549.40 414.60 L551.40 414.60 L553.40 414.58 L555.40 414.58 L557.40 414.48 L559.40 414.44 L561.40 414.54 L563.40 414.64 L565.40 414.56 L567.40 414.64 L569.40 414.83 L571.40 414.84 L573.40 414.71 L575.40 414.64 L577.40 414.64 L579.40 414.69 L581.40 414.61 L583.40 414.74 L585.40 414.86 L587.40 414.78 L589.40 414.57 L591.40 414.35 L593.40 414.31 L595.40 414.39 L597.40 414.54 L599.40 414.52 L601.40 414.61 L603.40 414.44 L605.40 414.67 L607.40 414.64 L609.40 414.82 L611.40 414.68 L613.40 414.65 L615.40 414.66 L617.40 414.76 L618.00 414.85" fill="none" stroke="#000000" stroke-width="1.6" stroke-linejoin="round"/>
<path d="M113.40 219.75 L115.25 220.52 L117.03 221.37 L118.78 222.31 L120.52 223.09 L122.27 223.93 L124.01 224.94 L125.78 225.84 L127.62 226.82 L129.50 227.43 L131.38 228.24 L133.22 228.89 L135.03 229.74 L136.78 230.67 L138.47 231.82 L140.03 233.09 L141.47 234.48 L142.84 235.93 L144.22 237.46 L145.57 238.98 L146.91 240.54 L148.21 242.01 L149.47 243.44 L150.80 244.99 L152.27 246.36 L153.83 247.85 L155.43 248.99 L157.08 250.01 L158.79 251.00 L160.58 251.85 L162.44 252.53 L164.32 253.12 L166.20 253.74 L168.06 254.71 L169.90 255.59 L171.74 256.26 L173.59 256.89 L175.44 257.62 L177.30 258.48 L179.18 259.11 L181.07 259.77 L182.98 260.23 L184.89 261.02 L186.82 261.58 L188.76 262.28 L190.71 262.73 L192.67 262.87 L194.63 263.20 L196.58 263.52 L198.52 264.12 L200.45 264.67 L202.37 265.18 L204.30 265.71 L206.23 266.30 L208.18 266.89 L210.11 267.48 L212.00 268.00 L213.80 268.69 L215.54 269.61 L217.29 270.66 L219.08 271.63 L220.89 272.42 L222.74 273.33 L224.61 273.88 L226.52 274.60 L228.44 275.03 L230.38 275.67 L232.32 276.16 L234.26 276.54 L236.20 277.08 L238.16 277.48 L240.15 277.67 L242.15 277.57 L244.12 277.29 L246.05 276.79 L247.94 276.14 L249.79 275.26 L251.54 274.56 L253.26 273.44 L255.08 272.77 L256.92 271.91 L258.76 271.25 L260.57 270.37 L262.33 269.36 L264.03 268.18 L265.68 267.02 L267.33 265.82 L268.99 264.93 L270.70 263.87 L272.46 262.99 L274.24 261.90 L276.02 260.96 L277.77 260.03 L279.47 259.10 L281.13 258.07 L282.77 256.84 L284.39 255.60 L286.01 254.39 L287.63 253.13 L289.26 252.05 L290.89 250.88 L292.51 249.67 L294.12 248.29 L295.71 247.10 L297.26 246.14 L298.76 245.07 L300.25 243.76 L301.73 242.09 L303.19 240.53 L304.64 239.03 L306.05 237.69 L307.40 236.29 L308.76 234.97 L310.20 233.55 L311.69 232.12 L313.20 230.79 L314.75 229.44 L316.33 228.31 L317.97 227.13 L319.66 226.25 L321.42 225.17 L323.22 224.35 L325.04 223.54 L326.87 222.69 L328.70 221.79 L330.55 220.77 L332.42 220.20 L334.30 219.72 L336.19 219.30 L338.11 218.66 L340.03 217.86 L341.96 217.37 L343.90 216.91 L345.84 216.48 L347.79 215.88 L349.74 215.37 L351.68 214.92 L353.61 214.59 L355.52 214.10 L357.44 213.58 L359.35 212.97 L361.27 212.40 L363.19 211.79 L365.10 211.03 L367.03 210.38 L368.97 209.95 L370.93 209.70 L372.90 209.39 L374.87 209.05 L376.84 208.69 L378.81 208.36 L380.78 207.98 L382.75 207.69 L384.71 207.36 L386.68 206.93 L388.67 206.60 L390.67 206.36 L392.66 206.57 L394.64 206.83 L396.61 207.26 L398.56 207.82 L400.51 208.32 L402.45 208.88 L404.41 209.18 L406.38 209.62 L408.35 209.84 L410.32 210.12 L412.30 210.48 L414.28 210.86 L416.26 211.27 L418.24 211.50 L420.23 211.50 L422.21 211.56 L424.21 211.78 L426.20 212.26 L428.19 212.53 L430.18 212.61 L432.17 212.62 L434.15 212.91 L436.09 213.50 L437.95 214.42 L439.83 215.22 L441.78 215.47 L443.76 215.73 L445.75 215.81 L447.74 216.00 L449.74 215.90 L451.74 215.83 L453.73 215.82 L455.72 215.71 L457.71 215.47 L459.71 215.32 L461.71 215.25 L463.71 215.39 L465.71 215.25 L467.71 215.24 L469.70 215.36 L471.69 215.79 L473.58 216.47 L475.34 217.33 L477.09 218.22 L478.83 219.17 L480.56 220.11 L482.29 221.03 L484.01 222.12 L485.73 223.15 L487.44 224.11 L489.16 225.08 L490.88 226.26 L492.60 227.28 L494.33 228.20 L496.05 229.34 L497.76 230.50 L499.46 231.74 L501.11 232.62 L502.75 233.79 L504.39 235.01 L506.05 236.09 L507.74 237.04 L509.43 237.90 L511.11 239.15 L512.77 240.22 L514.38 241.53 L515.96 242.63 L517.46 243.91 L518.94 245.29 L520.40 246.74 L521.85 248.11 L523.33 249.47 L524.84 250.84 L526.39 252.19 L527.95 253.47 L529.54 254.70 L531.15 256.04 L532.78 257.02 L534.42 258.07 L536.08 259.14 L537.76 260.27 L539.46 261.32 L541.17 262.27 L542.90 263.47 L544.62 264.48 L546.37 265.41 L548.13 266.34 L549.91 267.18 L551.67 268.29 L553.35 269.32 L554.93 270.54 L556.44 272.04 L557.86 273.32 L559.22 274.89 L560.50 276.32 L561.70 277.81 L562.85 279.37 L563.98 280.95 L565.11 282.76 L566.23 284.48 L567.34 286.08 L568.45 287.74 L569.56 289.54 L570.70 291.18 L571.86 292.74 L573.04 294.28 L574.20 295.94 L575.35 297.62 L576.46 299.14 L577.56 300.64 L578.67 302.17 L579.80 303.88 L580.95 305.66 L582.12 307.46 L583.32 309.11 L584.56 310.95 L585.88 312.41 L587.24 313.91 L588.67 315.10 L590.19 316.48 L591.80 317.60 L593.52 318.64 L595.32 319.52 L597.19 320.25 L599.12 320.87 L601.07 321.27 L603.05 321.56 L605.04 321.53 L607.03 321.62 L609.03 321.76 L611.02 321.96 L612.98 322.35 L614.93 322.74 L616.85 323.28 L618.50 323.80" fill="none" stroke="#0000ff" stroke-width="1.4" stroke-linejoin="round"/>
<path d="M113.40 266.04 L115.40 266.07 L117.40 266.11 L119.40 266.16 L121.40 266.03 L123.40 265.88 L125.40 266.07 L127.40 266.39 L129.40 266.58 L131.40 266.56 L133.40 266.58 L135.40 266.46 L137.40 266.35 L139.40 266.11 L141.40 266.24 L143.40 266.34 L145.40 266.57 L147.40 266.49 L149.40 266.56 L151.40 266.54 L153.40 266.67 L155.40 266.67 L157.40 266.76 L159.40 266.64 L161.40 266.69 L163.40 266.65 L165.40 266.86 L167.40 266.99 L169.40 266.91 L171.40 266.91 L173.40 266.78 L175.40 266.90 L177.40 266.97 L179.40 267.05 L181.40 267.05 L183.40 267.06 L185.40 267.09 L187.40 267.14 L189.40 267.07 L191.39 267.12 L193.39 267.12 L195.39 267.16 L197.39 267.06 L199.39 267.05 L201.39 267.26 L203.39 267.39 L205.39 267.45 L207.39 267.29 L209.39 267.27 L211.39 267.32 L213.39 267.43 L215.39 267.32 L217.39 267.30 L219.39 267.21 L221.39 267.38 L223.39 267.33 L225.39 267.35 L227.39 267.20 L229.39 267.48 L231.39 267.51 L233.39 267.64 L235.39 267.68 L237.39 267.65 L239.39 267.50 L241.39 267.45 L243.39 267.67 L245.39 267.98 L247.39 267.92 L249.39 267.94 L251.39 267.74 L253.39 267.48 L255.39 267.31 L257.39 267.53 L259.39 267.77 L261.39 267.80 L263.39 267.74 L265.39 267.81 L267.39 267.85 L269.39 267.84 L271.39 267.82 L273.39 267.82 L275.39 267.75 L277.39 267.60 L279.39 267.59 L281.39 267.64 L283.39 267.81 L285.39 267.89 L287.39 267.92 L289.39 267.85 L291.39 267.91 L293.39 267.95 L295.39 268.04 L297.39 267.91 L299.39 267.93 L301.39 267.84 L303.39 267.81 L305.39 267.63 L307.39 267.66 L309.39 267.82 L311.39 268.07 L313.39 268.07 L315.39 267.99 L317.39 267.80 L319.39 267.80 L321.39 267.75 L323.39 267.81 L325.39 267.73 L327.39 267.77 L329.39 267.81 L331.39 267.79 L333.39 267.87 L335.39 267.91 L337.39 268.14 L339.39 268.21 L341.39 268.22 L343.39 268.24 L345.39 268.13 L347.39 267.97 L349.39 267.87 L351.39 267.89 L353.39 267.99 L355.39 267.89 L357.39 268.07 L359.39 268.09 L361.39 268.20 L363.39 268.07 L365.39 268.21 L367.39 268.31 L369.39 268.47 L371.39 268.33 L373.39 268.28 L375.39 268.13 L377.39 268.32 L379.39 268.32 L381.39 268.41 L383.39 268.53 L385.39 268.59 L387.39 268.62 L389.39 268.63 L391.39 268.80 L393.39 268.69 L395.39 268.58 L397.39 268.34 L399.39 268.58 L401.39 268.59 L403.39 268.71 L405.39 268.76 L407.39 268.98 L409.38 269.13 L411.38 268.98 L413.38 268.87 L415.38 268.75 L417.38 269.12 L419.38 269.20 L421.38 269.25 L423.38 269.12 L425.38 269.36 L427.38 269.46 L429.38 269.37 L431.38 269.23 L433.38 269.37 L435.38 269.58 L437.38 269.78 L439.38 269.65 L441.38 269.67 L443.38 269.48 L445.38 269.50 L447.38 269.49 L449.38 269.64 L451.38 269.87 L453.38 269.91 L455.38 269.98 L457.38 269.98 L459.37 270.10 L461.37 270.07 L463.37 270.12 L465.37 270.01 L467.37 270.06 L469.37 270.12 L471.37 270.35 L473.37 270.41 L475.37 270.34 L477.37 270.37 L479.37 270.43 L481.37 270.60 L483.37 270.48 L485.37 270.45 L487.37 270.42 L489.37 270.47 L491.37 270.54 L493.37 270.48 L495.37 270.47 L497.37 270.58 L499.37 270.64 L501.37 270.94 L503.37 270.91 L505.36 270.99 L507.36 270.94 L509.36 270.89 L511.36 271.09 L513.36 270.96 L515.36 271.18 L517.36 271.08 L519.36 271.14 L521.36 271.21 L523.36 271.39 L525.36 271.46 L527.36 271.37 L529.36 271.21 L531.36 271.26 L533.36 271.38 L535.36 271.49 L537.36 271.53 L539.36 271.39 L541.36 271.51 L543.36 271.52 L545.36 271.76 L547.36 271.86 L549.36 271.94 L551.36 271.87 L553.36 271.78 L555.35 271.84 L557.35 271.86 L559.35 271.86 L561.35 271.70 L563.35 271.84 L565.35 271.87 L567.35 272.22 L569.35 272.17 L571.35 272.27 L573.35 272.22 L575.35 272.31 L577.35 272.44 L579.35 272.45 L581.35 272.48 L583.35 272.43 L585.35 272.47 L587.35 272.55 L589.35 272.47 L591.35 272.56 L593.35 272.40 L595.35 272.49 L597.35 272.40 L599.35 272.52 L601.35 272.57 L603.35 272.68 L605.35 272.79 L607.35 272.71 L609.35 272.88 L611.35 272.89 L613.35 273.01 L615.35 272.86 L617.35 272.98 L618.50 273.04" fill="none" stroke="#ff0000" stroke-width="1.4" stroke-linejoin="round"/>
<path d="M113.40 131.63 L115.36 131.87 L117.32 132.10 L119.27 132.47 L121.20 132.92 L123.10 133.66 L124.97 134.24 L126.82 135.08 L128.67 135.65 L130.51 136.52 L132.34 137.39 L134.16 138.39 L135.97 139.22 L137.79 139.78 L139.61 140.49 L141.42 141.33 L143.23 142.47 L145.06 143.32 L146.91 144.16 L148.79 144.79 L150.69 145.40 L152.59 146.09 L154.47 146.80 L156.35 147.57 L158.20 148.26 L160.05 149.13 L161.90 149.91 L163.75 150.54 L165.60 151.22 L167.45 151.80 L169.31 152.65 L171.17 153.41 L173.04 154.34 L174.91 155.05 L176.79 155.57 L178.67 156.14 L180.55 156.82 L182.43 157.47 L184.31 158.39 L186.20 159.02 L188.09 159.92 L189.95 160.60 L191.81 161.36 L193.67 162.09 L195.53 162.75 L197.40 163.48 L199.28 164.06 L201.16 164.66 L203.05 165.34 L204.94 165.99 L206.83 166.53 L208.74 167.13 L210.64 167.73 L212.55 168.32 L214.46 168.94 L216.36 169.48 L218.26 170.14 L220.17 170.75 L222.07 171.23 L223.98 172.15 L225.89 172.59 L227.80 173.58 L229.71 173.80 L231.63 174.44 L233.54 174.70 L235.45 175.32 L237.37 175.86 L239.30 176.56 L241.24 177.06 L243.18 177.65 L245.12 178.04 L247.07 178.74 L249.00 179.18 L250.94 179.72 L252.87 180.09 L254.80 180.65 L256.73 181.06 L258.66 181.65 L260.59 182.05 L262.52 182.71 L264.47 183.18 L266.41 183.58 L268.36 183.98 L270.31 184.32 L272.26 184.88 L274.20 185.50 L276.15 186.18 L278.11 186.81 L280.08 187.04 L282.05 187.16 L284.03 187.26 L286.01 187.55 L287.99 187.93 L289.98 188.23 L291.97 188.30 L293.97 188.51 L295.96 188.72 L297.95 188.97 L299.94 188.97 L301.93 189.05 L303.92 189.16 L305.92 189.32 L307.92 189.41 L309.91 189.74 L311.91 189.90 L313.91 189.81 L315.91 189.73 L317.91 189.58 L319.91 189.74 L321.91 189.75 L323.91 189.85 L325.91 189.69 L327.91 189.59 L329.90 189.37 L331.90 189.29 L333.89 189.10 L335.88 188.98 L337.88 188.85 L339.87 188.52 L341.86 188.25 L343.86 187.93 L345.85 187.87 L347.84 187.73 L349.84 187.61 L351.83 187.51 L353.82 187.31 L355.81 187.09 L357.81 186.78 L359.80 186.64 L361.79 186.61 L363.79 186.51 L365.78 186.22 L367.78 185.90 L369.77 185.52 L371.76 185.56 L373.76 185.51 L375.75 185.33 L377.75 185.13 L379.74 184.89 L381.74 184.89 L383.73 184.70 L385.73 184.66 L387.73 184.68 L389.72 184.62 L391.72 184.60 L393.72 184.52 L395.72 184.49 L397.71 184.42 L399.71 184.40 L401.71 184.18 L403.71 184.00 L405.70 183.81 L407.70 183.90 L409.70 183.94 L411.70 183.76 L413.70 183.64 L415.70 183.38 L417.69 183.44 L419.69 183.21 L421.69 183.11 L423.69 183.01 L425.69 183.16 L427.69 183.15 L429.69 183.08 L431.69 183.14 L433.69 183.11 L435.69 183.15 L437.69 182.94 L439.69 183.13 L441.69 183.17 L443.69 183.26 L445.69 183.33 L447.69 183.39 L449.68 183.55 L451.68 183.65 L453.68 183.85 L455.68 183.94 L457.68 183.87 L459.68 183.85 L461.68 183.83 L463.67 184.00 L465.67 183.97 L467.67 184.08 L469.67 184.08 L471.67 184.31 L473.67 184.45 L475.67 184.53 L477.67 184.56 L479.66 184.57 L481.66 184.70 L483.66 184.80 L485.66 184.95 L487.66 184.96 L489.66 185.07 L491.66 185.10 L493.66 185.09 L495.66 184.97 L497.66 185.03 L499.66 185.03 L501.66 185.05 L503.66 184.99 L505.66 185.15 L507.65 185.30 L509.64 185.51 L511.63 185.87 L513.61 186.34 L515.59 186.62 L517.57 186.88 L519.54 187.17 L521.52 187.52 L523.49 187.74 L525.47 187.94 L527.44 188.25 L529.42 188.66 L531.39 188.95 L533.36 189.16 L535.32 189.43 L537.29 189.73 L539.25 190.28 L541.21 190.58 L543.16 191.01 L545.11 191.42 L547.06 192.03 L549.01 192.35 L550.96 192.87 L552.90 193.32 L554.85 193.93 L556.81 194.28 L558.76 194.50 L560.72 194.95 L562.68 195.37 L564.63 196.06 L566.59 196.48 L568.54 197.11 L570.49 197.41 L572.43 197.81 L574.37 198.32 L576.30 198.93 L578.23 199.44 L580.15 199.81 L582.07 200.40 L583.98 201.05 L585.88 201.68 L587.77 202.18 L589.65 202.88 L591.53 203.57 L593.41 204.36 L595.30 205.11 L597.19 205.79 L599.08 206.47 L600.97 207.07 L602.86 207.56 L604.75 208.13 L606.63 208.78 L608.51 209.48 L610.39 210.24 L612.27 210.92 L614.15 211.73 L616.02 212.29 L617.89 213.07 L618.50 213.25" fill="none" stroke="#00f000" stroke-width="1.4" stroke-linejoin="round"/>
</g>
<rect x="638.2" y="368.3" width="183.7" height="113" fill="none" stroke="#000" stroke-width="1.2"/>
<line x1="643.3" y1="382.4" x2="647.2" y2="382.4" stroke="#000" stroke-width="1.3"/>
<line x1="651.2" y1="382.4" x2="655" y2="382.4" stroke="#000" stroke-width="1.3"/>
<circle cx="649.3" cy="382.4" r="1.7" fill="#000" fill-opacity="0.45"/>
<line x1="643.3" y1="410.7" x2="647.2" y2="410.7" stroke="#f00" stroke-width="1.3"/>
<line x1="651.2" y1="410.7" x2="655" y2="410.7" stroke="#f00" stroke-width="1.3"/>
<circle cx="649.3" cy="410.7" r="1.7" fill="#f00" fill-opacity="0.45"/>
<line x1="643.3" y1="439.1" x2="647.2" y2="439.1" stroke="#0d0" stroke-width="1.3"/>
<line x1="651.2" y1="439.1" x2="655" y2="439.1" stroke="#0d0" stroke-width="1.3"/>
<circle cx="649.3" cy="439.1" r="1.7" fill="#0d0" fill-opacity="0.45"/>
<line x1="643.3" y1="467.4" x2="647.2" y2="467.4" stroke="#00f" stroke-width="1.3"/>
<line x1="651.2" y1="467.4" x2="655" y2="467.4" stroke="#00f" stroke-width="1.3"/>
<circle cx="649.3" cy="467.4" r="1.7" fill="#00f" fill-opacity="0.45"/>
<text id="title1" x="148.00" y="45.60" font-size="36.00" textLength="250.40" lengthAdjust="spacingAndGlyphs" stroke="#000" stroke-width="0.25">Soil Temperature</text>
<text id="title2" x="407.40" y="45.60" font-size="36.00" textLength="186.00" lengthAdjust="spacingAndGlyphs" stroke="#000" stroke-width="0.25">/ 2006-09-01</text>
<text id="dg_l" x="100.00" y="69.90" font-size="18.50" textLength="6.40" lengthAdjust="spacingAndGlyphs" stroke="#000" stroke-width="0.25">[</text>
<text id="dg_d" x="106.60" y="65.20" font-size="13.00" textLength="4.80" lengthAdjust="spacingAndGlyphs" stroke="#000" stroke-width="0.00">&#176;</text>
<text id="dg_c" x="112.20" y="69.90" font-size="18.00" textLength="12.20" lengthAdjust="spacingAndGlyphs" stroke="#000" stroke-width="0.25">C</text>
<text id="dg_r" x="123.60" y="69.90" font-size="18.50" textLength="6.40" lengthAdjust="spacingAndGlyphs" stroke="#000" stroke-width="0.25">]</text>
<text id="y25" x="83.50" y="91.10" font-size="20.00" textLength="20.20" lengthAdjust="spacingAndGlyphs" stroke="#000" stroke-width="0.25">25</text>
<text id="y20" x="82.80" y="488.00" font-size="20.00" textLength="21.10" lengthAdjust="spacingAndGlyphs" stroke="#000" stroke-width="0.25">20</text>
<text id="x00" x="89.60" y="506.80" font-size="19.50" textLength="47.40" lengthAdjust="spacingAndGlyphs" stroke="#000" stroke-width="0.25">00:00</text>
<text id="x06" x="218.50" y="506.90" font-size="19.50" textLength="45.70" lengthAdjust="spacingAndGlyphs" stroke="#000" stroke-width="0.25">06:00</text>
<text id="x12" x="346.50" y="506.80" font-size="19.50" textLength="47.20" lengthAdjust="spacingAndGlyphs" stroke="#000" stroke-width="0.25">12:00</text>
<text id="x18" x="475.10" y="506.90" font-size="19.50" textLength="44.90" lengthAdjust="spacingAndGlyphs" stroke="#000" stroke-width="0.25">18:00</text>
<text id="sep" x="341.40" y="530.70" font-size="19.50" textLength="55.70" lengthAdjust="spacingAndGlyphs" stroke="#000" stroke-width="0.25">Sep-01</text>
<text id="lst" x="340.50" y="555.60" font-size="23.00" textLength="58.90" lengthAdjust="spacingAndGlyphs" stroke="#000" stroke-width="0.25">(LST)</text>
<text id="leg0" x="659.60" y="387.80" font-size="17.50" textLength="59.10" lengthAdjust="spacingAndGlyphs" stroke="#000" stroke-width="0.25">at 1.0 m</text>
<text id="leg1" x="659.60" y="416.00" font-size="17.50" textLength="59.10" lengthAdjust="spacingAndGlyphs" stroke="#000" stroke-width="0.25">at 0.5 m</text>
<text id="leg2" x="659.60" y="444.60" font-size="17.50" textLength="58.90" lengthAdjust="spacingAndGlyphs" stroke="#000" stroke-width="0.25">at 0.1 m</text>
<text id="leg3" x="659.60" y="472.50" font-size="17.50" textLength="68.20" lengthAdjust="spacingAndGlyphs" stroke="#000" stroke-width="0.25">at 0.02 m</text>
<text id="f0" x="662.00" y="533.00" font-size="12.50" textLength="117.80" lengthAdjust="spacingAndGlyphs" stroke="#000" stroke-width="0.00">&#169;TERC, Univ. Tsukuba</text>
<text id="f1" x="655.40" y="549.80" font-size="13.20" textLength="167.30" lengthAdjust="spacingAndGlyphs" stroke="#000" stroke-width="0.00">Observed at TERC Tower site</text>
<text id="f2" x="560.60" y="566.80" font-size="13.20" textLength="261.80" lengthAdjust="spacingAndGlyphs" stroke="#000" stroke-width="0.00">Created Automatically at 2006-09-01/23:55:17</text>
<text id="f3" x="436.00" y="583.80" font-size="13.20" textLength="384.60" lengthAdjust="spacingAndGlyphs" stroke="#000" stroke-width="0.00">Data source : /home/hojyo/new/TERC-data/sorted_data/MET.10s.dat</text>
<g>
<path d="M786.2 503.9 L817.8 503.9 Q818.8 503.9 818.8 504.9 L818.8 537.8 L785.2 537.8 L785.2 504.9 Q785.2 503.9 786.2 503.9 Z" fill="#0f5ef2"/>
<path d="M796.3 503.6 C796.8 506.5 797.8 510.2 802.1 510.2 C806.4 510.2 807.4 506.5 807.9 503.6 Z" fill="#fff"/>
<path d="M802.4 511.6 C801.8 513.5 799.2 515.5 799.2 518.3 C799.2 520.6 800.6 521.8 802.1 521.8 C803.6 521.8 805.1 520.6 805.1 518.3 C805.1 515.5 803 513.5 802.4 511.6 Z" fill="#fff"/>
<rect x="784.6" y="512.2" width="1.2" height="2.6" fill="#fff"/>
<rect x="784.6" y="523.3" width="1.2" height="1.9" fill="#fff"/>
<g fill="none" stroke="#fff" stroke-width="1">
<path d="M785.6 514.8 C789 519.5 793 523.8 799.5 524.5 L804.5 524.5 C811 523.8 815 519.5 818.4 514.8"/>
<path d="M785.6 519.2 C789 523 793 526.2 799.5 526.9 L804.5 526.9 C811 526.2 815 523 818.4 519.2"/>
<path d="M785.8 523.8 C789 526.2 792 528.2 796.5 528.7 L807.5 528.7 C812 528.2 815 526.2 818.2 523.8"/>
</g>
<text x="786" y="537" font-size="8.6" font-family="Liberation Sans" font-weight="bold" fill="#fff" textLength="31" lengthAdjust="spacing">TERC</text>
</g>
</svg></body></html>
